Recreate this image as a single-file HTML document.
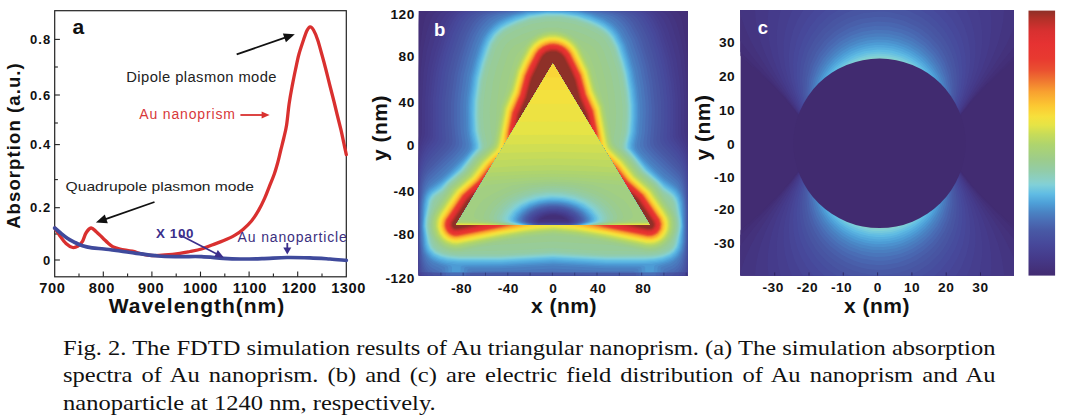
<!DOCTYPE html>
<html><head><meta charset="utf-8"><title>Fig. 2</title>
<style>
html,body{margin:0;padding:0;background:#fff;}
body{width:1068px;height:416px;overflow:hidden;position:relative;font-family:"Liberation Sans",sans-serif;}
svg{position:absolute;left:0;top:0;}
svg text{font-family:"Liberation Sans",sans-serif;}
.bx{font-weight:bold;font-size:14.6px;fill:#111;letter-spacing:.6px}
.by{font-weight:bold;font-size:13px;fill:#111;letter-spacing:1px}
.bt{font-weight:bold;font-size:13.7px;fill:#111;letter-spacing:.5px}
.xl{font-weight:bold;font-size:21px;fill:#111;}
.xl2{font-weight:bold;font-size:21px;fill:#111;letter-spacing:.5px}
.yl{font-weight:bold;font-size:18.5px;fill:#111;letter-spacing:1.1px}
.pl{font-weight:bold;font-size:21px;}
.plw{font-weight:bold;font-size:18.5px;}
.an{font-size:14px;letter-spacing:.85px}
.an2{font-size:13.2px;}
.an3{font-size:14px;letter-spacing:.4px}
.x100{font-weight:bold;font-size:13.4px;letter-spacing:.6px}
.cap{position:absolute;left:63.4px;width:837px;font-family:"Liberation Serif",serif;font-size:22px;color:#111;white-space:nowrap;text-align:justify;text-align-last:justify;line-height:27.4px;height:27.4px;transform:scaleX(1.114);transform-origin:0 0;}
</style></head><body>
<svg width="1068" height="416" viewBox="0 0 1068 416">
<defs>
<clipPath id="cb"><rect x="418.7" y="11.0" width="269.3" height="264.6"/></clipPath>
<clipPath id="ct"><polygon points="552.9,63.7 456.2,224.7 649.6,224.7"/></clipPath>
<clipPath id="cc"><rect x="740.4" y="10.0" width="273.6" height="265.6"/></clipPath>
<linearGradient id="gcb" x1="0" y1="0" x2="0" y2="1"><stop offset="0.0000" stop-color="#8e3028"/><stop offset="0.0279" stop-color="#b03028"/><stop offset="0.0770" stop-color="#d83030"/><stop offset="0.1260" stop-color="#e63232"/><stop offset="0.1826" stop-color="#e83a30"/><stop offset="0.2242" stop-color="#ea5030"/><stop offset="0.2657" stop-color="#f07830"/><stop offset="0.3057" stop-color="#f8a030"/><stop offset="0.3592" stop-color="#fcc832"/><stop offset="0.4000" stop-color="#f6e03c"/><stop offset="0.4317" stop-color="#e6e446"/><stop offset="0.4657" stop-color="#c8dc58"/><stop offset="0.5064" stop-color="#aed46e"/><stop offset="0.5638" stop-color="#9ccc8c"/><stop offset="0.6045" stop-color="#92cca8"/><stop offset="0.6453" stop-color="#88d0cc"/><stop offset="0.6581" stop-color="#80d0d8"/><stop offset="0.6921" stop-color="#60bce4"/><stop offset="0.7260" stop-color="#4ea0d8"/><stop offset="0.7600" stop-color="#4a84c4"/><stop offset="0.7958" stop-color="#4a6cb4"/><stop offset="0.8306" stop-color="#4859a5"/><stop offset="0.8808" stop-color="#47489a"/><stop offset="0.9336" stop-color="#453a8a"/><stop offset="0.9857" stop-color="#432e76"/><stop offset="1.0000" stop-color="#422c72"/></linearGradient>
</defs>
<!-- panel a -->
<rect x="54.7" y="10.7" width="291.6" height="266.1" fill="#fff" stroke="#222" stroke-width="1.2"/>
<line x1="103.3" y1="276.8" x2="103.3" y2="271.6" stroke="#222" stroke-width="1.1"/>
<line x1="151.9" y1="276.8" x2="151.9" y2="271.6" stroke="#222" stroke-width="1.1"/>
<line x1="200.5" y1="276.8" x2="200.5" y2="271.6" stroke="#222" stroke-width="1.1"/>
<line x1="249.1" y1="276.8" x2="249.1" y2="271.6" stroke="#222" stroke-width="1.1"/>
<line x1="297.7" y1="276.8" x2="297.7" y2="271.6" stroke="#222" stroke-width="1.1"/>
<line x1="79" y1="276.8" x2="79" y2="273.6" stroke="#222" stroke-width="1.1"/>
<line x1="127.6" y1="276.8" x2="127.6" y2="273.6" stroke="#222" stroke-width="1.1"/>
<line x1="176.2" y1="276.8" x2="176.2" y2="273.6" stroke="#222" stroke-width="1.1"/>
<line x1="224.8" y1="276.8" x2="224.8" y2="273.6" stroke="#222" stroke-width="1.1"/>
<line x1="273.4" y1="276.8" x2="273.4" y2="273.6" stroke="#222" stroke-width="1.1"/>
<line x1="322" y1="276.8" x2="322" y2="273.6" stroke="#222" stroke-width="1.1"/>
<line x1="54.7" y1="39.4" x2="59.900000000000006" y2="39.4" stroke="#222" stroke-width="1.1"/>
<line x1="54.7" y1="95" x2="59.900000000000006" y2="95" stroke="#222" stroke-width="1.1"/>
<line x1="54.7" y1="144.6" x2="59.900000000000006" y2="144.6" stroke="#222" stroke-width="1.1"/>
<line x1="54.7" y1="207.7" x2="59.900000000000006" y2="207.7" stroke="#222" stroke-width="1.1"/>
<line x1="54.7" y1="260" x2="59.900000000000006" y2="260" stroke="#222" stroke-width="1.1"/>
<line x1="54.7" y1="67" x2="57.900000000000006" y2="67" stroke="#222" stroke-width="1.1"/>
<line x1="54.7" y1="123" x2="57.900000000000006" y2="123" stroke="#222" stroke-width="1.1"/>
<line x1="54.7" y1="179.6" x2="57.900000000000006" y2="179.6" stroke="#222" stroke-width="1.1"/>
<line x1="54.7" y1="234" x2="57.900000000000006" y2="234" stroke="#222" stroke-width="1.1"/>
<path d="M54.7 228C55.6 229.3 58.1 233.4 60 236C61.9 238.6 63.9 241.6 66 243.5C68.1 245.4 70.7 247.1 72.7 247.5C74.7 247.9 76.4 247 78 246C79.6 245 81.2 243.6 82.5 241.4C83.8 239.2 84.6 235.2 86 233C87.4 230.8 89.4 228.2 91.1 228C92.8 227.8 94 229.8 96 231.5C98 233.2 101 236.3 103 238.2C105 240.1 106.4 241.6 108 243C109.6 244.4 110.8 245.8 112.8 246.8C114.8 247.8 116.8 248.3 120 249C123.2 249.7 128.6 250.4 132.3 251.2C136 252 138.8 253.3 142 254C145.2 254.7 147.9 255.3 151.7 255.5C155.5 255.7 160.3 255.4 165 255C169.7 254.6 175.7 253.9 179.9 253.3C184.1 252.7 186.4 252.2 190 251.5C193.6 250.8 197.8 250.1 201.5 249C205.2 247.9 208.4 246.4 212 245C215.6 243.6 219.4 242.4 223.2 240.8C227 239.2 231.3 237.3 234.6 235.4C237.9 233.5 240.2 231.8 243 229.4C245.8 227 248.9 224.2 251.5 221C254.1 217.8 256.5 213.9 258.7 210.1C260.9 206.3 262.9 202.1 264.7 198.1C266.5 194.1 267.9 190.1 269.5 186.1C271.1 182.1 272.9 178 274.3 174C275.7 170 276.8 166 277.9 162C279 158 279.8 154 280.8 150C281.8 146 282.8 142.2 283.8 138C284.8 133.8 285.7 130.7 286.6 125C287.5 119.3 288.2 110.3 289.1 104C290 97.7 290.9 92.7 292 87C293.1 81.3 294.2 75.5 295.4 70C296.6 64.5 297.6 59 299 54C300.4 49 302.2 43.9 303.5 40C304.8 36.1 305.9 32.7 307 30.5C308.1 28.3 309.1 26.9 310.2 26.8C311.3 26.7 312.2 27.8 313.5 30C314.8 32.2 316.3 35.8 317.7 40C319.1 44.2 320.6 50 322 55C323.4 60 324.7 64.8 326 70C327.3 75.2 328.7 81 330 86C331.3 91 332.4 95.3 333.6 100C334.8 104.7 335.8 109 337 114C338.2 119 339.8 125 341 130C342.2 135 343.1 139.9 344 144C344.9 148.1 345.9 152.8 346.3 154.6" fill="none" stroke="#d9302f" stroke-width="3.3" stroke-linejoin="round" stroke-linecap="round"/>
<path d="M54.7 228C55.6 228.8 57.9 230.8 60 232.5C62.1 234.2 64.8 236.5 67.3 238.2C69.8 239.9 72.5 241.2 75 242.5C77.5 243.8 79.7 244.9 82.5 245.8C85.3 246.7 88.4 247.3 92 247.8C95.6 248.3 99.4 248.5 104.1 249C108.8 249.5 114.6 250.3 120 251C125.4 251.7 130.2 252.5 136.6 253.3C143 254.1 151 255.4 158.2 256C165.4 256.6 172.8 256.5 180 256.6C187.2 256.7 194.3 256.3 201.5 256.6C208.7 256.9 216.8 257.9 223.2 258.3C229.6 258.7 233.5 258.9 240 259C246.5 259.1 254.2 258.9 262 258.6C269.8 258.4 279 257.6 287 257.5C295 257.4 302.8 257.6 310 257.8C317.2 258.1 323.9 258.6 330 259C336.1 259.4 343.6 260.2 346.3 260.4" fill="none" stroke="#3f4a9c" stroke-width="3.7" stroke-linejoin="round" stroke-linecap="round"/>
<text x="52.4" y="293.2" class="bx" text-anchor="middle">700</text>
<text x="101.8" y="293.2" class="bx" text-anchor="middle">800</text>
<text x="151.1" y="293.2" class="bx" text-anchor="middle">900</text>
<text x="200.5" y="293.2" class="bx" text-anchor="middle">1000</text>
<text x="249.9" y="293.2" class="bx" text-anchor="middle">1100</text>
<text x="299.2" y="293.2" class="bx" text-anchor="middle">1200</text>
<text x="348.6" y="293.2" class="bx" text-anchor="middle">1300</text>
<text x="51.2" y="44.1" class="by" text-anchor="end">0.8</text>
<text x="51.2" y="99.7" class="by" text-anchor="end">0.6</text>
<text x="51.2" y="149.3" class="by" text-anchor="end">0.4</text>
<text x="51.2" y="212.4" class="by" text-anchor="end">0.2</text>
<text x="51.2" y="264.7" class="by" text-anchor="end">0</text>
<text x="197" y="312.7" class="xl" text-anchor="middle" style="letter-spacing:1px">Wavelength(nm)</text>
<text transform="translate(19.8,145.5) rotate(-90)" class="yl" text-anchor="middle">Absorption (a.u.)</text>
<text x="72.6" y="34.1" class="pl" fill="#111">a</text>
<text x="126.3" y="81.9" class="an3" fill="#222" textLength="150.7" lengthAdjust="spacingAndGlyphs">Dipole plasmon mode</text>
<text x="139.2" y="119.4" class="an" fill="#d8393a">Au nanoprism</text>
<text x="65.6" y="190.6" class="an2" fill="#222" textLength="188.3" lengthAdjust="spacingAndGlyphs">Quadrupole plasmon mode</text>
<text x="156" y="238.2" class="x100" fill="#3b2f8c">X 100</text>
<text x="237.6" y="241.7" class="an" fill="#3b2f80">Au nanoparticle</text>
<line x1="236.7" y1="54.4" x2="285.8" y2="37.3" stroke="#111" stroke-width="1.8"/><polygon fill="#111" points="294.8,34.2 285.9,42.2 282.9,33.5"/>
<line x1="240.4" y1="115" x2="263.1" y2="115" stroke="#d9302f" stroke-width="1.8"/><polygon fill="#d9302f" points="269.6,115 261.6,118.6 261.6,111.4"/>
<line x1="154.5" y1="202" x2="104.9" y2="219.4" stroke="#111" stroke-width="1.8"/><polygon fill="#111" points="95.9,222.6 104.8,214.6 107.8,223.3"/>
<line x1="179.9" y1="235" x2="217.3" y2="254.3" stroke="#3b2f8c" stroke-width="1.6"/><polygon fill="#3b2f8c" points="224,257.7 214.2,257.1 217.8,250"/>
<line x1="287.3" y1="243" x2="287.3" y2="249.1" stroke="#3b2f8c" stroke-width="1.8"/><polygon fill="#3b2f8c" points="287.3,254.6 283.3,247.6 291.3,247.6"/>
<!-- panel b -->
<g clip-path="url(#cb)" shape-rendering="geometricPrecision">
<rect x="418.7" y="11.0" width="269.3" height="264.6" fill="#422c72"/>
<path fill="#422d74" fill-rule="evenodd" d="M689.7 277.1L416.7 277.1L416.7 9L689.7 9L689.7 277.1Z"/>
<path fill="#432f78" fill-rule="evenodd" d="M689.7 277L416.7 277L416.7 40L418.8 15L419.6 12L422 9L684.1 9L684.7 9.5L686.8 12L687.7 15L689.7 34.8L689.7 277Z"/>
<path fill="#44327c" fill-rule="evenodd" d="M689.7 277L416.7 277L416.7 135.8L417.2 130L417.2 100L418.1 71L419.7 48.9L422.6 29L424.9 18L426 15L427.5 13L433.9 9L552.7 8.8L671.6 9L678.3 13L680.4 16L682.1 21L685.7 42L687.5 58L688.9 84L689.7 132.6L689.7 277Z"/>
<path fill="#443581" fill-rule="evenodd" d="M689.7 277L416.7 277L416.7 148.2L418.2 142L419.5 132L419.6 98L420.7 70L423.1 49L426.7 32L430.7 19.7L432.7 15.5L434.6 13L437.7 11L442.6 9L552.7 8.9L662.8 9L667.7 11L670.9 13L673.8 17L676.5 23L681.2 40L684.1 56L685.7 73.2L686.9 100L686.9 131L688.4 142L689.7 146.6L689.7 277Z"/>
<path fill="#453886" fill-rule="evenodd" d="M689.7 277L416.7 277L416.7 156.4L421.9 133L422 99L423.6 72L426.7 51.3L431.1 34L435.7 21L437.6 17L439.7 14L442.5 12L450.9 9L552.7 8.9L654.7 9L662.8 12L665.7 14L668.5 18L671.8 25L677.6 44L680.8 59L683.2 80L684.4 102L684.3 132L689.7 154L689.7 277Z"/>
<path fill="#453b8b" fill-rule="evenodd" d="M688.7 277L417.6 277L417.3 273L416.7 272L416.7 165.3L419.7 148.5L424.9 134L425.1 97L427 75L428.4 65L431.7 50L437.3 31L442.4 19L446 14L449.1 12L455.9 9L649.8 9L656.4 12L660.4 15L663.7 20L667.7 29L673.3 47L676.5 60L679.6 81L681 98L681.1 133L682.1 137L686.7 148.1L689.7 161.6L689.7 272L689.4 277L688.7 277Z"/>
<path fill="#463e8e" fill-rule="evenodd" d="M687.7 277L418.6 277L418.4 273L416.7 272L416.7 174.3L420.2 152L422.7 145.1L427 137L427.7 134L427.7 99L430.1 76L431.4 68L435.2 52L441.4 32L446.5 20L450.5 14L453.7 11.7L460.9 9L552.7 8.9L644.9 9L651.7 11.6L655 14L658.4 19L663.3 29L669.2 47L672.9 61L676.5 82L678.1 99L678.1 134L679 137L683.7 145.2L685.7 150L687.6 157L689.7 170.1L689.7 272.3L688.3 273L688.1 277L687.7 277Z"/>
<path fill="#464192" fill-rule="evenodd" d="M686.7 277L419.6 277L419.3 273L417.8 272L416.7 262.3L416.7 183.8L418.7 166L420 158L421.7 151.9L423.9 147L429 139L430.3 135L430.2 99L432.8 76L434.6 66L438.1 52L444.4 32L449.6 20L453.9 14L457.7 11.6L466.5 9L639.2 9L648.8 12L652.6 15L656.3 21L661 31L666.5 48L670 61L673.9 83L675.7 100L675.5 135L676.4 138L682.7 147.6L685.7 154.5L687.4 162L689.6 178L689.7 267.6L689.1 272L687.3 273L686.7 277Z"/>
<path fill="#474596" fill-rule="evenodd" d="M685.7 277L420.9 277L420.4 273L418.5 272L416.7 249.7L416.7 197.6L419.3 168L420.7 160.3L422.7 153.9L425.7 148.1L431.6 140L432.8 137L433 97L435.7 74L438.8 60L447.7 31L452.8 20L457.4 14L462.7 11.3L472.9 9L632.9 9L644.7 11.9L649.3 15L653.2 21L658 31L667 60L671.2 83L673 100L673.3 116L672.8 136L674.3 140L680.7 148.4L683.7 153.8L685.8 160L687.7 170L689.7 188.3L689.7 258L688.2 272L686.2 273L685.7 277Z"/>
<path fill="#47489a" fill-rule="evenodd" d="M683.7 277L422.4 277L421.8 273L419.2 272L418 258L417 237L417.4 201L418.3 184L419.7 170.9L421.7 161.6L424.3 155L427.7 149.3L434.3 141L435.5 138L435.4 101L438.8 72L443.2 54L449.5 34L454.8 22L459.7 15L465 12L479.6 9L626.2 9L640.8 12L644.7 13.9L646.8 16L651.1 23L655.8 33L661.7 51L665.7 67L668.7 84.4L670.5 102L670.6 119L669.9 134L670.2 138L671.6 141L678.9 150L682.7 156.2L685.7 164.6L687.2 173L689.6 202L689.5 246L687.4 272L684.8 273L684.1 277L683.7 277Z"/>
<path fill="#474c9d" fill-rule="evenodd" d="M681.7 277L424.6 277L423.6 273L420.1 272L418.3 254L417.5 224L418.4 192L420.1 174L421.7 166.5L424.7 158.8L428.7 152.4L436.7 143L438.6 139L438.3 101L441.9 72L446 55L452.7 34.1L458.2 22L460.8 18L463.6 15L469.7 12L486.5 9L619.1 9L636 12L640.7 14L644 17L648.7 24.8L653 34L658.7 51.5L662.7 67.2L665.8 85L667.5 102L667.7 119L666.8 136L667.1 139L669.2 143L677.7 152.8L681.7 158.8L684.7 165.8L686.7 175.1L688.2 190L689 210L689 234L688.5 252L686.6 272L682.9 273L681.7 277Z"/>
<path fill="#47509f" fill-rule="evenodd" d="M677.7 277L428.2 277L426.3 273L421 272L418.9 255L418 227L418.8 194L420.7 175.6L422.7 167.9L425.7 161.5L430.3 155L440.1 144L441.8 141L442.3 138L441.4 122L441.5 101L445.2 72L449.4 55L455.8 35L461.7 22.4L464.8 18L467.8 15L471.4 13L474.6 12L494.6 9L611.2 9L631.7 12.2L636.4 14L640.9 18L645.7 26L650.3 36L655.8 53L659.7 69L662.6 85L664.4 103L664.5 118L663.5 136L663.7 140L665.7 144L676.7 156L681.7 163.1L684.7 170.6L686.7 180.7L687.9 195L688.4 215L688.3 239L687.3 260L685.6 272L680.1 273L677.7 277Z"/>
<path fill="#4855a2" fill-rule="evenodd" d="M670.7 277L435.2 277L431 273L422.1 272L419.7 257L418.5 230L419 202L419.7 189L421 179L423.2 171L426.7 164.2L431.7 157.8L442.8 146L445.3 142L445.7 139L444.7 123L444.7 102L448.3 73L452.5 56L459.3 35L465.1 23L468.8 18L471.7 15.3L476.2 13L480.7 11.8L504.6 9L601.5 9L619.7 10.9L627.7 12.4L633.6 15L637.7 19L642.7 27.3L647.2 37L652.7 54L656.6 70L659.4 86L661.2 103L661.3 119L660.1 138L660.6 142L663 146L674.7 158.2L680.7 165.7L684 173L686.3 184L687.7 205L687.9 234L687.2 253L685.7 266.4L684.4 272L675.2 273L670.7 277Z"/>
<path fill="#4859a5" fill-rule="evenodd" d="M665.7 277L602.9 277L597.7 276L561.7 273L553.7 273L544.7 273L508.7 276L503.5 277L439.9 277L439.1 273L423.5 272L421.7 265.5L420.6 259L419.1 235L419.4 203L420.4 189L421.7 180.6L423.7 173.8L426.7 168.3L432.7 161.1L446.3 147L448.8 143L449.2 140L447.9 123L447.9 103L448.6 94L451.4 74L455.6 57L462.4 36L468.4 24L472 19L475.1 16L478.4 14L484.8 12L493.7 10.8L515.7 9L590.6 9L614.1 11L624.7 13L630.6 16L635.3 21L640.5 30L644.5 39L651.5 62L654.1 74L656.3 87L658 104L658 120L656.6 140L657.1 143L659.7 147.2L674.7 162.6L680.7 169.7L683.7 176.3L685.9 187L687.3 207L687.4 235L686.6 253L684.7 266.3L682.9 272L666.8 273L665.7 277Z"/>
<path fill="#495faa" fill-rule="evenodd" d="M662.7 277L635.9 277L635.7 273L634.7 273L553.7 272.7L470.7 273L470.2 273L469.9 277L442.7 277L442.7 273L425.5 272L423.3 267L421.7 260.4L419.7 240.9L419.7 206L420.7 193.6L422.1 184L424.5 176L427.7 170.8L448.7 149.2L452.1 144L452.5 140L451 122L451 103L451.8 94L454.6 74L458.9 57L466.3 35L472.1 24L476.1 19L479.4 16L483.7 13.7L490.5 12L521.6 9L584.5 9L609.7 11.3L619.8 13L626.3 16L629.7 19L632.7 22.8L638.4 33L641.8 41L649.1 65L652.5 83L654.9 107L654.8 121L653.3 141L653.7 144L655.3 147L657.7 149.8L679.7 172.1L681.7 175.5L683.7 180.7L685.6 191L686.8 209L686.9 237L685.7 254.5L683.7 265.4L681 272L663.2 273L663.1 277L662.7 277Z"/>
<path fill="#4966b0" fill-rule="evenodd" d="M659.7 277L639.4 277L639.4 273L634.7 272.7L553.7 272.5L470.7 272.7L466.4 273L466.4 277L446 277L446 273L428.2 272L426.7 270.1L424.7 266.5L422.7 260.1L421 250L420.2 241L419.9 224L420.3 206L420.9 198L422.7 186.1L424.7 179.7L427.7 174.6L451.2 151L453.7 148L455.4 145L455.8 141L454.1 123L454.1 104L454.7 95L457.7 74L462.1 57L466.8 42L470 34L473.2 28L476.6 23L480.1 19L483.8 16L487.8 14L494.7 12.4L526.9 9L579 9L608.6 12L617.7 14L621.9 16L624.6 18L630.5 25L637.4 38L642.8 54L646.4 67L649.7 85L651.9 108L651.7 122L650 142L650.4 145L652.1 148L655.6 152L676.7 172.4L679.7 176L681.7 179.6L683.5 185L685.5 197L686.4 213L686.3 239L684.9 254L682.7 264L680.7 268.5L678 272L659.8 273L659.7 277Z"/>
<path fill="#4a6db5" fill-rule="evenodd" d="M655.7 277L643.4 277L643.4 273L635.7 272.5L553.7 272.2L470.7 272.5L462.4 273L462.4 277L450.1 277L450.1 273L432.9 272L429.7 269.8L426.7 266.3L424.7 262.2L422.7 255.2L421.3 248L420.7 240L420.3 224L420.8 206L421.7 197L423.5 188L425.7 181.7L428.7 177.1L452.5 154L456.9 149L458.6 146L459.1 142L457.8 133L457.1 123L457.1 104L457.8 95L460.8 74L464.9 58L469.7 43L472.9 35L478.9 25L482.7 20.6L486.9 17L490.7 14.9L497.7 13L529.7 9.4L535.1 9L572.7 9.1L601.1 12L612.3 14L617.2 16L620.7 18.4L624.7 22.4L628.2 27L634.7 39.4L639.9 55L643.5 68L646.8 86L648.5 101L648.9 109L648.2 129L646.7 142L647.2 146L648.9 149L654.2 155L678.7 178.4L680.7 181.6L682.7 186.8L685.1 200L685.9 214L685.7 240L684.7 250.2L681.7 262.3L678.7 267.6L673.7 271.7L655.8 273L655.7 277Z"/>
<path fill="#4a76bb" fill-rule="evenodd" d="M665.7 272L648.7 272.9L633.7 272.2L563.3 272L552.7 271.5L543 272L472.7 272.2L452.7 272.9L439.7 272L431.7 267.8L427.7 263.9L425.7 260.3L423.1 253L421.4 242L420.8 226L421.2 211L421.7 201.5L423 194L425.7 185.9L428.7 180.9L453.7 157.2L459.3 151L461.9 147L462.5 143L461 134L460.3 126L460.1 105L460.8 96L463.7 75L467.8 59L472.6 44L475.8 36L478.5 31L482 26L486.5 21L490.2 18L493.7 16L499.8 14L525.7 10.4L548.7 9L572.7 9.8L601 13L609.5 15L613.9 17L617.7 19.7L621.7 23.6L625.2 28L631.6 40L637 56L640.6 69L643.7 86L645.5 102L645.8 112L645 131L643.3 143L643.7 146.5L645.7 150L651.9 157L662.7 167.5L677.7 181L679.7 183.9L681.7 188.4L684.2 198L685.2 209L685.4 227L685 242L683.7 251.2L680.7 260.3L677.7 265L673.7 268.3L665.7 272Z"/>
<path fill="#4a7ec0" fill-rule="evenodd" d="M662.7 272L645.7 272.7L635.4 272L632.7 271.1L604.7 271.1L552.7 268.4L515.7 270.5L499.7 271.1L472.7 271.2L470.4 272L464.7 272.4L450.7 272.6L442.7 272L441.7 269.2L432.7 265.1L429.7 262.6L427.7 260.2L423.6 252L421.9 241L421.3 226L421.7 211.4L422.3 202L423.6 195L425.7 189.4L429.7 183.5L440.7 174L453.2 162L461.7 153L465.2 148L465.8 144L463.6 129L463.2 105L463.8 96L466.9 75L470.7 60L475.4 45L478.7 37L481.5 32L485.1 27L489.7 22.2L493.7 19L498.7 16.4L504.7 14.5L517.4 12L526.7 10.8L551.7 9.6L577.7 10.6L594.4 13L603 15L607.7 16.7L611.9 19L615.8 22L622.8 30L629.1 42L634.1 57L637.7 70L640.8 87L642.5 103L642.8 116L641.8 133L639.9 144L640.2 147L642.5 151L650.6 160L663.7 172.6L674.7 181.6L677.7 184.8L681.7 191.9L683.7 199.5L684.6 210L684.9 227L684.3 242L682.9 251L680.5 257L676.7 262.5L672.7 265.5L664.5 269L662.7 272Z"/>
<path fill="#4a87c6" fill-rule="evenodd" d="M659.7 272.1L649.7 272.5L638.7 272L637.9 269L635.7 268.4L604.7 268.3L552.7 265.6L501.7 268.3L469.7 268.4L467.7 269.2L467.1 272L457.7 272.5L448.7 272.2L445.3 272L445 268L444.2 267L432.7 262.3L429.7 259.9L426.7 256.2L424.5 252L423.2 247L421.9 229L422.6 206L424.1 196L426.1 191L428.7 187.3L431.7 184.4L441.5 177L451.1 168L463.7 154.9L466.9 151L468.5 148L468.8 144L467 135L466.2 127L465.9 107L466.4 98L469.2 77L473.3 61L478 46L481.3 38L484.1 33L487.9 28L492.7 23.2L496.7 20.2L502.7 17.1L509.7 14.7L516.7 12.9L526.7 11.3L550.7 10.1L577.7 11.1L591.7 13.3L598.7 15.4L604.7 17.8L609.7 20.7L613.7 23.8L617.8 28L620.8 32L626.2 42L631.2 57L635.1 71L638.1 88L639.9 105L640 116L639 133L636.7 144.9L637.2 148L639.7 152.1L649.7 163L664.5 177L673.7 183.8L677.7 187.6L681.1 193L683 200L683.9 209L684.3 227L683.7 242L682 251L679.7 255.8L676.7 259.6L670.7 263.7L661.6 267L660.7 268.3L660.5 272L659.7 272.1Z"/>
<path fill="#4c91ce" fill-rule="evenodd" d="M656.7 272.1L641.8 272L641.5 268L640.2 267L638.7 266.7L604.7 266.5L553.7 263.8L501.7 266.5L467.7 266.7L465.6 267L464.3 268L464 272L448.4 272L448.3 268L447.3 266L438.7 263.3L433.7 261L429.7 258.1L426.7 254.3L424.7 250L423.8 246L422.3 227L423.3 205L424.7 196.9L426.7 192L429.7 188.1L441.7 179L450.5 171L463.7 157.5L468.4 152L470.2 149L470.8 145L468.2 130L467.6 107L468.3 97L471.2 76L474.2 64L479.2 48L483.2 38L489.3 29L493.7 24.6L497.7 21.6L503.7 18.3L512.2 15L525.7 11.9L550.7 10.6L577.7 11.6L590.9 14L602.7 18.5L611.7 24.3L615.7 28.2L619.4 33L625.1 44L630 59L633.3 71L636.4 88L638.1 104L638.3 116L637.2 133L634.8 145L635.5 149L637.7 152.3L643.7 159.3L655.4 171L664.3 179L673.7 185.7L677.3 189L680.7 194.5L682.6 202L683.8 226L683 242L681.4 250L678.2 256L673.7 260.2L668.7 262.7L658.6 266L657.5 268L657.4 272L656.7 272.1Z"/>
<path fill="#4d9cd5" fill-rule="evenodd" d="M653.7 272L645.3 272L645.1 267L644 266L641.7 265.5L604.7 265.2L553.7 262.5L501.7 265.2L464.7 265.4L461.8 266L460.7 267L460.5 272L451.9 272L451.9 267L450.7 265.4L440.7 262.6L434.7 260.2L430.7 257.4L427.1 253L425.3 249L424.4 245L422.8 226L424 205L425.5 197L427.3 193L429.7 189.7L441.7 180.7L451.7 171.6L463.7 159.4L469.9 152L471.7 149L472.2 145L470.1 135L469.4 128L468.9 107L469.5 98L472.4 77L476.5 61L480.9 47L484.2 39L487.1 34L490.7 29.4L494.7 25.4L499.4 22L505.7 18.7L514.7 15.2L527.7 12.3L550.7 11L576 12L582.9 13L590.7 14.9L603.7 20.5L608.7 23.6L612.7 27L616.3 31L619.1 35L624.1 45L629 60L632.2 72L635.2 89L636.8 104L637 116L635.9 133L633.4 145L634 149L635.9 152L642.7 160.1L654.6 172L663.7 180.2L672.7 186.5L676.7 190L679.9 195L682 203L683.3 227L682.1 243L680.5 250L677.6 255L672.7 259.4L666.7 262.1L655.8 265L654.3 266L653.7 272Z"/>
<path fill="#52a6db" fill-rule="evenodd" d="M651.7 264L605.7 264L552.7 261.3L501.7 264L456.7 264.4L444.7 262.4L437.2 260L431.7 256.8L427.7 252.2L426.2 249L425.1 245L423.2 226L424.8 205L426.1 198L427.8 194L430.7 190.3L441.7 182.2L454 171L463.7 161L473 149L473.5 145L471.4 135L470.6 129L470.1 108L470.7 98L473.6 77L477.4 62L482.2 47L485.1 40L487.9 35L491.7 30.1L495.7 26.2L499.7 23.3L505.8 20L514.7 16.3L527.7 12.9L549.7 11.4L561.7 11.6L574.7 12.5L580.7 13.3L588.7 15.3L602.2 21L610.9 27L614.7 30.9L617.7 35L622.8 45L627.7 60L630.9 72L634.1 90L635.6 105L635.7 117L634.7 133L632.1 145L632.7 149L643.7 162.9L651.8 171L663.7 181.7L672.7 188L676.1 191L679.3 196L681.2 203L682.8 227L681.3 243L679.5 250L675.7 255.5L670.7 259.1L662.7 262.1L651.7 264Z"/>
<path fill="#58b0df" fill-rule="evenodd" d="M656.7 262L645.7 262.9L606.7 262.9L552.7 260.1L500.7 262.8L457.7 262.8L446.7 261.6L438.7 259.3L432.7 256.1L428.7 251.8L427.1 249L425.9 245L423.7 227L424 219L425.6 204L426.7 199L428.4 195L430.7 191.9L441.7 183.6L457.7 169L463.7 162.5L474.3 149L474.8 145L472.6 135L471.8 129L471.3 109L471.9 98L474.6 78L478.4 63L483.1 48L485.9 41L488.7 36L491.7 31.9L495.7 27.8L499.7 24.7L506.4 21L515.7 17.1L528.7 13.5L547.7 11.9L569.7 12.6L577.7 13.6L584 15L590.7 17.1L598.7 20.6L604.7 23.8L608.7 26.7L612.7 30.4L616.2 35L621.5 45L626.5 60L629.7 72L632.9 90L634.4 105L634.5 117L633.6 132L631 144L631 148L632.8 151L646.7 167.6L663.7 183.1L672.1 189L675.7 192.3L678.6 197L680.3 203L682.4 226L680.7 242L679.3 248L676.5 253L671.7 257.2L664.7 260.2L656.7 262Z"/>
<path fill="#5fbbe3" fill-rule="evenodd" d="M654.7 261.1L643.7 261.7L606.7 261.7L552.7 258.9L500.7 261.7L458.7 261.6L447.7 260.6L439.7 258.5L433.7 255.4L429.3 251L427.7 248L426.5 244L424.2 227L424.5 219L427.3 200L429 196L431.7 192.4L440.7 185.8L460.7 167.3L474.7 150L475.8 148L475.9 144L473.2 131L472.5 114L472.9 100L475.8 78L479.9 62L484.3 48L487.2 41L490.1 36L493.2 32L500.7 25.4L506.7 22.1L515.7 18.3L528.7 14.3L547.7 12.4L567.5 13L581.7 15.3L589.7 17.9L597.7 21.4L603.7 24.6L607.7 27.4L611.7 31.1L615.5 36L620.2 45L625.5 61L628.5 72L631.8 91L633.3 105L633.4 118L632.4 132L629.8 144L629.9 148L631 150L646.7 169L664.7 185.3L671.7 190.1L674.9 193L678.1 198L679.7 204L681.7 220L681.9 226L679.9 242L678.3 248L675 253L670.7 256.4L662.7 259.6L654.7 261.1Z"/>
<path fill="#6ac2e0" fill-rule="evenodd" d="M653.7 260.1L643.7 260.7L606.7 260.6L552.7 257.8L500.7 260.6L458.7 260.6L447.7 259.5L439.7 257.3L433.7 254.1L429.7 249.9L427.3 244L424.7 226L425 219L428.1 200L430 196L432.5 193L440.7 187.1L446.7 181L460.7 168.4L477 148L477.2 145L474.3 131L473.5 114L474 100L476.9 78L481 62L485.1 49L488 42L492.9 34L496.7 30L500.7 26.7L506.7 23.3L515.7 19.4L528.7 15.1L545.7 13L562.7 13.2L577.7 15.2L592.7 20.3L599.7 23.6L605.7 27.2L610.1 31L614.2 36L619.4 46L624.4 61L627.4 72L630.6 90L632.2 105L632.3 117L631.3 132L628.7 144L628.7 148L646.6 170L659.2 181L664.7 186.6L670.7 190.7L674.4 194L677.1 198L678.9 204L681.2 220L681.4 226L678.9 243L677.3 248L674.6 252L669.7 255.8L661.7 258.7L653.7 260.1Z"/>
<path fill="#76cadc" fill-rule="evenodd" d="M653.7 259.1L643.7 259.7L606.7 259.7L552.7 256.9L500.7 259.7L458.7 259.6L447.7 258.5L440.7 256.6L434.7 253.7L430.1 249L427.8 243L425.2 226L425.5 219L428.6 201L430.4 197L432.7 194.1L441 188L446.7 181.8L460.7 169.5L478 148L478 144L475.2 131L474.5 115L474.9 100L477.9 78L481.4 64L486.2 49L489 42L494.2 34L497.7 30.4L501.7 27.2L506.7 24.4L515.7 20.4L529.7 15.6L546.7 13.5L562.7 13.7L577.7 16L593.7 21.8L600.7 25.2L605.7 28.4L609.7 32L613.7 37L618.4 46L624 63L626.8 74L629.9 92L631.3 106L631.3 118L630.4 132L627.7 144L627.7 148L645.6 170L658.7 181.4L664.7 187.7L670.7 191.9L674.1 195L676.7 199.1L678.4 205L680.6 220L680.9 226L678.4 242L676.9 247L673.7 251.7L669.7 254.7L662.7 257.5L653.7 259.1Z"/>
<path fill="#81d0d6" fill-rule="evenodd" d="M655.7 258L643.7 258.8L606.7 258.8L552.7 256L500.7 258.8L459.7 258.8L447.7 257.6L440.7 255.7L434.7 252.7L430.7 248.5L428.5 243L426.2 231L425.7 226L426.1 219L429.4 201L431.3 197L433.7 194.3L441.7 188.5L447.4 182L461.1 170L471.2 157L478.9 148L478.9 144L476.1 131L475.3 117L475.6 102L478.4 80L482.3 64L489.1 44L491.7 39L494.5 35L501.7 28.3L506.7 25.4L515.7 21.3L529.7 16.4L545.7 14.1L560.7 14.2L576.7 16.5L590.7 21.3L599.7 25.6L604.7 28.8L608.7 32.2L612.6 37L617.4 46L622.5 61L626 74L628.9 91L630.4 106L630.5 117L629.5 132L626.8 144L626.8 148L634.6 157L644.7 170L658.4 182L663.8 188L670.7 192.9L673.7 195.8L676.2 200L677.6 205L680.1 220L680.3 226L679.7 232L676.5 246L673.7 250.5L669.7 253.7L662.7 256.6L655.7 258Z"/>
<path fill="#88d0cb" fill-rule="evenodd" d="M645.7 258L606.7 258L553.7 255.2L499.7 258L459.7 258L448.7 257L441.7 255.2L435.7 252.4L431.3 248L429.2 243L426.7 231L426.3 226L426.6 219L429.8 202L431.6 198L433.7 195.4L441.7 189.5L447.7 182.6L462 170L471.7 157.4L479.8 148L479.8 144L476.9 131L476.1 117L476.4 102L479.4 79L483.2 64L487.6 50L490.4 43L495.7 34.8L499.7 30.8L503.7 28L517.7 21.3L530.7 16.9L546.7 14.7L562.7 15L577.7 17.5L587.7 21L595.7 24.5L601.7 27.7L605.7 30.6L609.7 34.5L612.9 39L617 47L622.2 63L625.1 74L628.2 92L629.6 106L629.7 117L628.7 132L625.9 144L625.9 148L633.8 157L644.7 171L658.5 183L663.7 189L670.7 193.9L673.7 197L676.5 203L679.4 219L679.8 226L679.1 232L676.4 244L673.7 249.3L669.3 253L662.7 255.7L655.7 257.2L645.7 258Z"/>
<path fill="#8bcfc0" fill-rule="evenodd" d="M648.7 257L606.7 257.2L552.7 254.4L499.7 257.2L459.7 257.2L448.7 256.1L441.7 254.4L435.7 251.4L431.7 247.2L430 243L427.7 232.9L426.8 225L427.4 218L430 204L431.4 200L434.7 195.5L442.3 190L448.2 183L462 171L472.7 157.2L479.5 150L480.7 148L480.6 144L477.7 131L476.9 117L477.2 102L480 80L483.7 65.1L490.7 44.3L495.8 36L499.6 32L503.7 28.9L518.2 22L530.7 17.7L546.7 15.4L560.7 15.5L576.6 18L592.7 24L603.7 30L608.2 34L611.7 38.5L616.1 47L621.7 64.1L624.3 74L627.4 92L628.8 106L628.9 117L627.9 132L625.1 144L625.1 148L626.3 150L633.7 157.9L643.8 171L657.6 183L663.7 190L669.5 194L672.7 197L675.7 203L678.7 218.7L679.2 225L678.7 231L675.7 243.8L673.7 248L669.7 251.8L664.7 254.2L657.7 256.1L648.7 257Z"/>
<path fill="#8fcdb5" fill-rule="evenodd" d="M650.7 256L606.7 256.4L552.7 253.6L499.7 256.4L459.7 256.3L449.7 255.4L442.7 253.8L436.6 251L432.6 247L430.9 243L428.4 233L427.4 225L428 218L430.7 204.9L432.4 200L435.5 196L442.7 190.7L448.7 183.5L463 171L472.9 158L480.4 150L481.6 148L481.5 144L478.7 132L477.8 118L478 103L480.7 81L484.7 64.7L491.7 44.2L496.7 36.2L503.7 29.9L509 27L518 23L530.7 18.5L546.7 16.2L559.7 16.2L576.7 18.9L590.6 24L598.9 28L603.6 31L607.7 34.8L610.7 38.6L615.6 48L620.7 63.7L623.7 75.3L626.6 92L628 106L628.1 117L627 132L624.2 144L624.2 148L625.3 150L632.7 157.8L642.8 171L656.7 183.1L662.7 190.2L669.4 195L672.3 198L674.8 203L677.9 218L678.6 225L678 231L674.7 244L672.7 247.8L669.3 251L664.7 253.3L658.7 255L650.7 256Z"/>
<path fill="#92ccaa" fill-rule="evenodd" d="M650.7 255L607.7 255.4L552.7 252.6L499.7 255.4L460.7 255.4L451.7 254.7L443.6 253L437.1 250L433.7 246.7L432 243L429.1 233L428.1 225L428.7 218L433.1 201L436 197L443.5 191L449.2 184L463.9 171L473.7 158.2L481.5 150L482.6 148L482.6 144L479.7 131.8L478.8 117L479 103L481.8 81L485.7 65L492.7 44.5L497.7 36.7L504 31L513.7 26L529.7 19.8L545.7 17.2L558.7 17.1L574.7 19.5L588.1 24L596.7 28L601.8 31L606.5 35L609.7 39L614.7 48.6L619.7 63.9L622.7 75.5L625.6 93L626.9 106L627 117L626 132L623.2 144L623.1 148L624.3 150L631.9 158L642.7 171.9L655.7 183.1L662.7 191.4L668.9 196L671.7 198.9L673.7 203L677.2 218L677.9 224L677.3 231L673.7 243.7L672 247L668.9 250L664.7 252.1L658.6 254L650.7 255Z"/>
<path fill="#95cca1" fill-rule="evenodd" d="M644.7 254L607.7 254L553.7 251.1L498.7 254L458.7 253.9L450.7 253.3L443.7 251.5L438.3 249L434.7 245.3L430.2 234L428.8 225L429.7 217L434.7 201.3L437.2 198L442.7 193.3L449.7 184.6L464.7 171.3L474.7 158.3L482.6 150L483.9 148L484.1 144L480.9 129L480.2 115L480.6 101L483.7 79L486.7 66.9L493.7 45.9L498.7 37.8L502.5 34L506.7 31.1L519.7 25L531.7 20.9L547.7 18.5L561.7 18.8L575.7 21.2L586.6 25L593.3 28L599.1 31L603.2 34L606.7 37.5L609.7 41.8L613.7 50.3L619.7 69.4L622.7 83.8L624.7 97.8L625.6 108L625.6 117L624.7 130.4L621.9 143L621.5 146L621.9 148L623.2 150L631.7 159L641.7 172L655.7 184.2L662.7 192.7L669.7 199L672 203L676.7 219.3L677.1 226L676.3 232L672.7 242.3L669.9 247L665.9 250L659.7 252.3L653.7 253.5L644.7 254Z"/>
<path fill="#98cc98" fill-rule="evenodd" d="M653.7 252.1L647.7 252.5L633.7 251.2L593.7 250.5L552.7 248.1L512.7 250.5L471.7 251.2L455.7 252.4L449.7 251.7L443.7 249.7L439.1 247L435.7 243.5L432.7 238.2L431.1 234L430 229L429.7 224L431.2 215L436.1 204L438.6 200L448.7 187L465.3 172L475.2 159L484.7 149L486.7 146L486.9 143L483.9 129L483.1 116L483.5 103L486.1 82L489.7 67.3L495.7 48.8L500 41L506.2 35L515.7 30L531.4 24L545.7 21.6L556.7 21.3L563.9 22L574.6 24L586 28L598.2 34L602.1 37L605.7 41.2L609.7 48.3L614.7 62.9L617.7 73.6L621.1 93L622.6 107L622.7 116L621.7 130.4L619 142L619.1 146L621 149L630.6 159L640.5 172L654.2 184L657.7 187.7L669.3 203L673.7 212.2L675.6 218L676.3 224L675.7 231L673.7 237.1L670.7 242.7L667.9 246L664.7 248.4L659.7 250.7L653.7 252.1Z"/>
<path fill="#9bcc8f" fill-rule="evenodd" d="M652.7 251L644.7 250.8L631.6 248L611.5 245L552.7 241.6L494.3 245L479.9 247L460.7 250.9L454.7 251.1L448.7 250.1L443.7 248.1L439.2 245L435.6 241L432.1 234L430.6 226L431.6 217L434.7 209.6L440.1 201L449.7 187.3L465.7 173L476.7 158.8L488.4 147L491.2 143L491.9 138L490.2 126L489.7 109L492.9 82L496.1 69L502 51L505.7 44.6L510.7 40L521.7 34.6L533.7 30.2L547.7 27.5L556.7 27.4L572.7 30.3L584.7 34.6L595.2 40L598.6 43L600.9 46L604 52L609.3 68L611.7 77L614.5 93L616.2 112L615.4 127L613.8 138L614.6 143L617.4 147L628.7 158.3L640.1 173L652.8 184L656.7 188L670.2 208L672.9 213L674.6 218L675.4 224L674.9 230L673.5 235L670.7 240.4L666.7 245L662.7 247.8L657.7 249.9L652.7 251Z"/>
<path fill="#9ecd88" fill-rule="evenodd" d="M650.7 250L644.7 249.6L618.1 244L588.7 239L573.8 237L552.7 235.5L532.1 237L517.1 239L487.7 244L460.7 249.7L454.7 250L448.7 248.9L443.7 246.7L439.7 243.9L435.7 239.2L432.7 233L431.5 225L432.3 218L435.2 211L450.5 188L467.1 173L477.9 159L490.2 147L492.9 143L494.7 133.8L496.1 120L496.8 104L499.8 82L502.6 71L507.7 55L510.7 49.4L514.7 45.6L526.7 39.7L538.7 32.6L546.7 30.2L554.7 29.7L561.7 30.8L568.7 33.3L578.7 39.3L589.7 44.6L592.8 47L595.3 50L597.8 55L601.3 65L605.5 81L607.9 95L609.3 108L609.7 121.2L611.7 138.3L612.9 143L615.6 147L627.9 159L638.7 173.1L655.3 188L669.5 209L673.3 217L674.4 223L674.1 229L672.8 234L670.3 239L666.7 243.3L661.7 247L655.7 249.3L650.7 250Z"/>
<path fill="#a2cf82" fill-rule="evenodd" d="M649.7 249L644.7 248.5L618.8 243L585.4 237L571.4 235L552.7 233.5L526.7 236L497.3 241L460.7 248.6L454.7 249L448.7 247.8L442.7 244.9L438.3 241L435 236L432.7 229L432.5 222L434.2 215L438.2 208L451.9 188L467.6 174L479.3 159L491.6 147L493.7 144L494.9 140L500.9 105L505.7 91.1L510 73L514.7 58.5L517.2 54L527.9 42L532.7 37.7L537.7 34.5L544.7 31.9L551.7 30.9L558.7 31.4L565.7 33.4L571.7 36.7L575.9 40L587.7 53L589.7 55.9L594.6 69L599.8 90L605.1 106L610.7 139.1L612.1 144L614.7 147.5L626.5 159L638.2 174L651.7 185.7L654.8 189L668.9 210L672.4 217L673.5 223L673.2 229L671.8 234L669.1 239L665.5 243L660.7 246.3L655.7 248.2L649.7 249Z"/>
<path fill="#a6d17b" fill-rule="evenodd" d="M650.7 248.1L645.7 247.8L608.3 240L579.2 235L552.7 232.4L526.6 235L497.5 240L460.7 247.7L454.7 248L448.7 246.8L443.7 244.4L439.5 241L435.9 236L433.7 230L433.2 223L434.8 216L438 210L452.2 189L468.7 174.1L479.7 159.9L491.9 148L494.2 145L495.7 140.6L502 106L509.7 87.5L513.3 73L515.1 68L520.1 57L526.2 46L531.5 40L537.7 35.7L542.7 33.5L548.7 32.1L553.7 31.8L559.7 32.5L565.7 34.5L570.7 37.2L575.3 41L578.8 45L585.2 56L591.2 69L596.7 89.3L603.2 104L605.1 112L610 140L611.6 145L613.9 148L626.2 160L637.7 174.8L653.6 189L670.2 214L672.3 220L672.7 226L671.6 232L669.3 237L665.7 241.6L661.7 244.7L656.7 247L650.7 248.1ZM561.7 216L579 214L607.4 209L612.7 207.9L613.7 207.2L613.9 206L610.7 190.7L603.3 174L598.7 158.2L596.7 153.6L593 150L565.7 129.3L554.7 115.5L552.7 114.2L549.7 117.1L540.4 129L512.8 150L508.7 154.2L507.5 157L503.3 172L495.7 189L491.9 206L492 207L493.4 208L526.8 214L550.7 216.4L561.7 216Z"/>
<path fill="#aad274" fill-rule="evenodd" d="M652.7 247L645.7 246.9L607.4 239L578.3 234L554.7 231.6L546.2 232L527.5 234L503.7 238L456.7 247.3L450.7 246.6L445.7 244.6L440.7 241L436.8 236L434.5 230L434 223L435.2 217L438.3 211L453.3 189L469 175L480.7 160L492.7 148.4L495.1 145L496.6 140L502.9 106L510.7 87.7L515.4 70L520.3 59L527.4 46L531.7 41L537.7 36.6L543.7 34.1L549.7 32.8L555.7 32.8L561.7 33.9L567.7 36.4L572.7 39.8L576.9 44L580.3 49L590 69L595.7 89.5L602.5 105L606.1 122L609.4 141L610.7 145.1L612.8 148L625.1 160L636.7 174.9L649.7 186.2L653.3 190L667.5 211L670.6 217L671.8 222L671.8 227L670.8 232L669 236L665.7 240.4L661.7 243.7L657.7 245.7L652.7 247ZM563.1 217L580.2 215L608.9 210L613.7 209L615.1 208L615.3 207L611.7 190.2L604 173L599.4 157L597.7 153.2L594.7 150L567.7 128.8L564.1 125L555.7 114L553.7 112.2L552.7 111.9L548.7 115.6L538.7 128.3L511.2 150L507.7 153.9L502.1 172L494.2 190L490.5 207L490.7 208.1L492.7 209.1L532.6 216L551.7 217.7L563.1 217Z"/>
<path fill="#aed46e" fill-rule="evenodd" d="M653.7 246.1L649.7 246.5L645.7 246.1L606.3 238L576.8 233L552.7 230.8L535.7 232.2L522.7 234L499.5 238L459.7 246.2L454.7 246.4L449.7 245.5L444.7 243.2L440.7 239.9L437.1 235L435.1 229L434.8 222L436.4 216L440.5 209L454.3 189L469.7 175.4L480.8 161L493.1 149L495.7 145.6L497.2 141L503.4 107L510.8 90L516.3 70L521.2 59L527.6 47L531.8 42L537.7 37.5L542.7 35.2L548.7 33.7L554.7 33.5L560.7 34.4L566.7 36.8L571.7 40L575.9 44L579.4 49L589.1 69L594.7 89.1L602.1 106L608.7 141.4L610.3 146L612.7 149L624.1 160L635.8 175L652.4 190L666 210L669.8 217L671 222L671.1 227L670 232L668.1 236L665 240L661.7 242.8L657.7 244.9L653.7 246.1ZM561.4 218L579.3 216L613.2 210L615.9 209L616.2 207L612.5 190L604.5 172L599.9 156L598.5 153L594.7 149L568.1 128L556.7 113.7L554.7 111.6L552.7 110.7L548.7 114.2L537.7 127.9L511.1 149L507.3 153L505.7 156.5L501.3 172L493.6 189L489.5 208L489.9 209L492.5 210L528.7 216.3L551.7 218.5L561.4 218Z"/>
<path fill="#b6d667" fill-rule="evenodd" d="M654.7 245.1L650.7 245.7L646.7 245.6L593.4 235L574.7 232L554.7 230.1L539.7 231.1L524.4 233L501 237L456.7 245.8L450.7 245L445.7 242.9L441.7 239.9L437.9 235L435.8 229L435.5 222L437.1 216L441.3 209L454.4 190L470 176L481.8 161L494.1 149L496.3 146L497.7 141.8L504.2 107L511.7 89.5L517 70L522.1 59L528.5 47L532.8 42L538.7 37.8L543.7 35.6L549.7 34.3L555.7 34.3L561.7 35.5L566.7 37.6L571.7 40.9L575.8 45L579.1 50L588.8 70L593.9 89L601.3 106L607.9 141L609.5 146L611.7 149L624 161L635.7 176L651.4 190L665.1 210L669.1 217L670.2 221L670.5 226L669.9 230L668.4 234L665.9 238L662.7 241.2L658.7 243.7L654.7 245.1ZM558.3 219L577.5 217L601.5 213L615.7 210.1L617.1 209L617.2 208L612.9 189L605.3 172L600.7 156L598.7 152L595.7 148.9L568.7 127.5L557 113L554.7 110.6L552.7 109.7L548.7 113L540.3 124L536.7 127.9L510 149L506.7 152.5L505.1 156L500.5 172L492.7 189.6L488.6 208L488.7 209L489.7 210L491.7 210.6L527.7 216.9L549.7 219.2L558.3 219Z"/>
<path fill="#bed960" fill-rule="evenodd" d="M650.7 245.1L645.7 244.7L608.3 237L579.7 232.1L554.7 229.5L544.4 230L526.5 232L502.8 236L456.7 245.1L450.7 244.3L445.7 242.2L441.7 239L438.1 234L436.1 227L436.5 220L438.9 214L446.1 203L455.2 190L471 176L482.7 161L494.7 149.3L497 146L498.5 141L504.6 108L512.6 89L517.4 71L522.3 60L528.7 48L532.8 43L538.7 38.5L543.7 36.3L549.7 35L554.7 34.9L560.7 35.9L565.7 37.8L570.8 41L574.9 45L578.3 50L588 70L593.7 90.4L600.9 107L607.5 142L608.7 146L610.8 149L623.1 161L634.8 176L647.7 187.2L651.4 191L665 211L668.4 217L669.7 222L669.7 227L668.5 232L666.7 235.7L663.7 239.4L659.7 242.4L655.7 244.2L650.7 245.1ZM565.8 219L581.8 217L614.7 211.1L617.7 210L618 208L613.6 189L606 172L601.4 156L599.6 152L595.7 148.1L569.1 127L557.7 112.7L554.7 109.7L552.7 108.8L550.7 110L547.7 113.2L536.7 127L509.7 148.5L506.2 152L504.7 155.2L500.2 171L492.2 189L487.7 209L488.1 210L490.7 211L530.7 218L551.7 220L565.8 219Z"/>
<path fill="#c6db5a" fill-rule="evenodd" d="M653.7 244L646.7 244.2L595.3 234L574.7 230.7L554.7 228.8L537.7 230L524.7 231.6L499.7 235.9L456.7 244.5L451.7 243.9L446.7 242L442.6 239L438.9 234L436.7 227L436.6 223L437.4 219L439.6 214L450.2 198L456.1 190L471.7 176.1L482.7 161.9L494.9 150L497.2 147L498.9 142L505.2 108L512.7 90.6L518 71L522.5 61L529.4 48L533.7 43L538.7 39.3L543.7 37L549.7 35.6L555.7 35.6L560.7 36.6L565.7 38.5L570.7 41.8L574.7 45.7L577.6 50L587.4 70L592.9 90L600.3 107L606.9 142L608.5 147L610.9 150L622.7 161.5L634 176L650.6 191L664.2 211L667.7 217L668.9 221L669.2 226L668.5 230L667 234L664.7 237.4L661.7 240.3L657.7 242.7L653.7 244ZM561.9 220L578.7 218.1L608.5 213L617.7 211L618.8 210L618.9 209L614.3 189L606.3 171L601.7 155L600.3 152L596.5 148L570 127L557.9 112L554.7 108.8L552.7 108L550.7 109.1L547.7 112.2L535.8 127L509.3 148L505.5 152L504.1 155L499.5 171L491.5 189L487 210L488.1 211L492.2 212L530.7 218.6L551.7 220.6L561.9 220Z"/>
<path fill="#d0de53" fill-rule="evenodd" d="M654.7 243.1L650.7 243.8L646.7 243.6L609.6 236L587 232L572.7 229.8L553.7 228.2L536.7 229.5L524.9 231L501.7 234.9L456.7 243.8L451.7 243.3L446.7 241.3L442.7 238.2L439.6 234L437.3 227L437.3 223L438 219L440.4 214L450.3 199L456.7 190.2L471.7 177L483.4 162L495.7 150.1L498 147L499.5 142L505.8 108L513.2 91L518.7 71L523.2 61L529.7 48.7L533.7 43.8L539.7 39.4L544.7 37.3L549.7 36.3L555.7 36.2L560.7 37.2L565.7 39.2L570 42L573.7 45.5L576.9 50L587.1 71L592.6 91L599.7 107L606.3 142L607.8 147L610.1 150L622.4 162L633.7 176.6L649.8 191L662.8 210L667 217L668.3 221L668.6 225L668.2 229L666.8 233L664.7 236.4L661.7 239.5L658.7 241.5L654.7 243.1ZM557.5 221L575.7 219.2L600.7 215.1L617.7 211.7L619.2 211L619.7 210L614.7 188.4L607 171L602.3 155L600.7 151.5L597.4 148L570.7 126.8L567.1 123L558.7 112L554.7 108L552.7 107.2L550.7 108.3L547.1 112L535.7 126.3L508.4 148L504.8 152L498.8 171L491.2 188L486.1 210L486.7 211.1L489.7 212.1L527.7 218.8L549.7 221.1L557.5 221Z"/>
<path fill="#dbe14c" fill-rule="evenodd" d="M651.7 243.1L646.7 243L605.7 234.6L580.7 230.3L553.7 227.5L536.7 228.8L524.7 230.4L500.7 234.5L457.7 243.2L452.7 242.9L447.7 241.1L443.4 238L440.3 234L438.9 231L437.9 227L437.9 223L438.7 219L441.1 214L451.7 198L457.7 190L472.7 176.8L483.7 162.6L496.6 150L498.6 147L500.1 142L506.2 109L513.8 91L519 72L523.4 62L530.2 49L534.4 44L539.7 40.1L544.7 38L549.7 36.9L555.7 36.8L560.7 37.8L565.7 39.9L570.2 43L573.7 46.5L576.7 51L586.4 71L592 91L599 107L602.6 124L605.9 143L607.2 147L609.7 150.5L621.7 162.2L633.3 177L649.7 191.8L663.7 212.4L666.8 218L667.8 222L668 226L667.3 230L665.6 234L662.7 237.8L659.7 240.2L655.7 242.2L651.7 243.1ZM564.5 221L578.7 219.4L612.7 213.4L619.1 212L620.4 211L620.5 210L615.2 188L607.6 171L603 155L601.1 151L597.7 147.5L570.7 126L558.7 111.1L554.7 107.1L552.7 106.4L550.7 107.5L546.3 112L535.1 126L507.7 147.8L504.7 151L502.8 155L498.2 171L490.6 188L485.3 210L485.7 211.4L488.7 212.5L529.7 219.8L551.7 221.9L564.5 221Z"/>
<path fill="#e6e446" fill-rule="evenodd" d="M653.7 242.1L646.7 242.4L609.7 234.8L587.7 230.9L573.7 228.7L553.7 226.9L535.7 228.3L523.7 230L500.7 233.9L457.7 242.5L452.7 242.3L447.7 240.4L443.7 237.5L440.7 233.5L439.2 230L438.4 226L439.3 219L441.8 214L453.8 196L458.7 189.9L473.4 177L484.7 162.4L496.5 151L498.8 148L500.5 143L506.8 109L514.5 91L519.6 72L524.1 62L530.7 49.4L534.7 44.6L539.7 40.8L544.7 38.6L549.7 37.5L554.7 37.4L559.7 38.2L564.7 40.1L569.3 43L573.3 47L576 51L586.2 72L591.3 91L598.7 108L605.3 143L607 148L609.3 151L620.8 162L632.7 177.3L649 192L662.7 212L666.1 218L667.2 222L667.4 226L666.6 230L665.4 233L663.4 236L660.7 238.7L657.7 240.7L653.7 242.1ZM560.5 222L576.7 220.3L601.7 216.1L618.7 212.8L620.8 212L621.4 211L615.8 188L607.9 170L603.3 154L601.9 151L598 147L571.6 126L559.4 111L554.7 106.4L552.7 105.6L550.7 106.7L546.4 111L534.2 126L507.7 147.1L503.9 151L502.5 154L497.9 170L490 188L484.4 211L485 212L487.9 213L528.7 220.2L551.7 222.5L560.5 222Z"/>
<path fill="#ede242" fill-rule="evenodd" d="M654.7 241.2L650.7 242L646.7 241.7L593.7 231.3L574.7 228.2L553.7 226.1L523.7 229.3L500.7 233.3L457.7 241.9L452.7 241.6L447.7 239.7L444.1 237L441.1 233L439.8 230L439 226L439.2 222L439.9 219L442.5 214L454.6 196L459.4 190L473.7 177.5L485 163L497.3 151L499.6 148L501.1 143L507.1 110L508.8 105L514.7 92L519.9 73L524.3 63L531.1 50L534.7 45.4L539.7 41.6L544.7 39.3L549.7 38.1L554.7 38L559.7 38.8L564.7 40.8L568.7 43.3L572.5 47L575.3 51L585.5 72L590.7 91L598.1 108L604.9 144L606.2 148L608.5 151L620.7 162.8L632.6 178L648.3 192L661.3 211L665.5 218L666.4 221L666.8 225L666.3 229L665.2 232L663.4 235L660.7 237.9L654.7 241.2ZM557.5 223L576.7 220.9L601.7 216.7L620.5 213L622.1 212L622.3 211L620.1 204L616.1 187L608.5 170L602.7 151L598.9 147L571.7 125.3L559.3 110L554.7 105.6L552.7 104.8L550.7 105.9L545.7 110.8L533.7 125.7L506.9 147L503.1 151L497.3 170L489.7 187L485.5 205L483.5 211L483.7 212.1L486.7 213.4L523.4 220L550.7 223.3L557.5 223Z"/>
<path fill="#f3e13e" fill-rule="evenodd" d="M652.7 241.1L646.7 241.1L601.4 232L556.2 225L557.7 224L578.7 221.2L608.8 216L620.7 213.6L622.5 213L623.2 212L620.7 204L616.8 187L609.1 170L604.3 153L602.9 150L599.9 147L572.7 125.5L560.1 110L554.9 105L552.7 104L550.7 105.1L545.7 110L533.6 125L505.9 147L502.9 150L501.5 153L497 169L489.1 187L485.2 204L482.6 212L483.3 213L484.7 213.5L497 216L526.7 221.1L548.1 224L549.6 225L504.4 232L457.7 241.3L452.7 241L448.7 239.6L444.7 236.8L441.8 233L440.4 230L439.6 226L439.8 222L440.6 219L443.2 214L455.3 196L460.2 190L474 178L485.7 163L498.2 151L500.4 148L507.7 110L515.7 91L520.5 73L524.9 63L531.8 50L535.7 45.3L540.7 41.7L544.7 39.9L549.7 38.7L554.7 38.6L559.7 39.4L564.7 41.4L568.7 44.1L572.6 48L575.2 52L584.9 72L590.7 92.8L597.5 108L601.1 125L604.5 145L605.9 149L620.1 163L631.8 178L647.5 192L659.3 209L664.8 218L666 222L666.2 226L665.4 230L664 233L659.6 238L656.7 239.8L652.7 241.1Z"/>
<path fill="#f7dc3a" fill-rule="evenodd" d="M653.7 240.3L650.7 240.8L646.7 240.6L604.5 232L562.9 225L564.1 224L595.7 219L620.7 214.2L623.7 213.1L624.1 212L621.2 204L617.3 187L609 168L606.4 159L604.4 150L573 125L561.8 111L554.6 104L552.7 103.3L550 105L543.7 111.4L532.8 125L501.7 149.8L501.3 149L504 132L508 111L509.7 106L515.7 92.7L520.7 74L525.1 64L531.8 51L535.7 46.1L540.7 42.3L544.7 40.5L549.7 39.3L554.7 39.2L559.7 40.1L564.7 42.1L568.7 44.8L571.8 48L574.6 52L584.3 72L589.7 91.6L597.2 109L605 150L611.7 155.5L618.4 162L631.7 178.7L646.7 192L651.2 198L664.2 218L665.2 221L665.7 225L665.1 229L663.9 232L662 235L659.7 237.2L656.7 239.2L653.7 240.3ZM460.7 240.2L455.7 240.8L451.7 240.2L447.7 238.4L443.8 235L441.4 231L440.3 227L440.4 222L441.6 218L453.3 200L459.1 192L474.8 178L484.8 165L489.7 159.6L500.7 149.8L501.2 150L499.4 159L497.1 167L488.5 187L484.3 205L481.7 212L482 213L484.7 214.1L504.6 218L541.7 224L542.9 225L501.3 232L460.7 240.2Z"/>
<path fill="#f9d537" fill-rule="evenodd" d="M602.7 147L600.7 146.1L591.7 139.5L573.8 125L570.7 121.8L560.7 109L555.5 104L552.7 102.7L550.3 104L544.7 109.4L534.9 122L531.7 125.3L507.7 144.3L503.7 146.9L502.7 146.5L504.3 133L508.6 111L510.3 106L516.7 91.5L521.3 74L526.2 63L532.5 51L535.7 46.9L540.7 43L544.7 41.1L549.7 39.8L554.7 39.7L558.7 40.3L562.7 41.7L566.7 44L570.2 47L573.3 51L580.1 64L584.1 73L589.6 93L597 110L602.1 137L603.2 145L602.7 147ZM458.7 240.1L454.7 240.2L450.7 239.3L446.7 237L443.7 234L441.6 230L440.7 226L440.9 222L442.2 218L455.3 198L459.7 192.1L475.5 178L485.5 165L490.7 159.4L496.7 154L498.7 152.8L499.6 153L499.3 157L497.2 165L495.1 171L488.2 186L484.1 204L481 213L482.1 214L484.7 214.7L536 224L537.2 225L498.5 232L458.7 240.1ZM651.7 240.1L646.7 240L607.3 232L568.6 225L569.8 224L620.7 214.8L623.8 214L624.9 213L621.8 204L617.7 186.4L610.7 171L608.3 164L606.3 156L606.1 154L606.7 152.7L610.7 155.3L617.7 162L631.2 179L646.7 192.8L663.1 217L664.4 220L665.1 224L664.8 228L663.3 232L661.2 235L658.7 237.3L655.7 239L651.7 240.1Z"/>
<path fill="#fbce34" fill-rule="evenodd" d="M601.7 145.6L599.7 144.8L592.7 139.6L574.5 125L571.5 122L560.7 108.3L555 103L552.7 102L549.7 103.9L544.4 109L535.1 121L531.3 125L509.7 142.2L505.7 145L503.7 145.4L503.3 143L504.2 137L509.1 111L516.7 93L521.5 75L526.2 64L533.1 51L536.3 47L540.7 43.5L544.7 41.6L549.7 40.4L554.7 40.2L558.7 40.9L562.7 42.3L567.2 45L570.5 48L573.4 52L583.6 73L588.7 92L596.5 110L602.1 140L602.5 144L601.7 145.6ZM460.7 239.1L456.7 239.8L452.7 239.3L448.7 237.7L445.2 235L442.6 231L441.4 227L441.3 223L442.3 219L447.2 211L459.6 193L475.7 178.5L486.1 165L490.7 160.1L496.7 154.8L497.7 154.3L498.7 154.5L498.6 158L496.4 166L487.7 186L483.5 204L480.1 213L480.7 214L483.7 215L527.3 223L531.7 224L532.6 225L529.4 226L501.1 231L460.7 239.1ZM653.7 239.2L650.7 239.7L646.7 239.5L604.7 231L576.4 226L573.2 225L574.1 224L578.5 223L622.1 215L625.1 214L625.7 213L622.3 204L617.7 185L611.3 171L609.1 165L607.1 157L607 155L607.7 154.2L611.7 156.9L617.9 163L630.7 179.2L646.2 193L662.5 217L664.5 223L664.5 227L663.7 230L662.1 233L659.7 235.8L656.7 238L653.7 239.2Z"/>
<path fill="#fcc632" fill-rule="evenodd" d="M600.7 144.4L591.7 138.3L574.7 124.6L571.3 121L561.1 108L555.7 102.9L552.7 101.4L549.7 103.3L543.8 109L534.5 121L530.6 125L508.7 142.4L505.7 144.3L504.7 144.5L504.2 144L504.1 141L505.1 134L509.5 111L517.5 92L522.3 74L527.3 63L533.6 51L537 47L541.7 43.5L545.7 41.8L549.7 40.8L554.7 40.7L558.7 41.4L562.7 42.8L566.7 45.2L569.8 48L572.8 52L583.1 73L588.7 93.3L596 110L601.5 139L601.8 143L601.7 144L600.7 144.4ZM458.7 239.1L454.7 239.2L450.7 238.2L447 236L444.2 233L442.7 230L441.7 226L441.9 222L443.3 218L460.2 193L475.9 179L485.9 166L490.7 160.8L495.7 156.3L497.7 155.7L498 158L496.2 165L494 171L487.6 185L483.1 204L479.7 212L479.6 214L481.5 215L486.2 216L524.3 223L528.2 224L529 225L521.2 227L498.5 231L458.7 239.1ZM651.7 239.1L646.7 239L607.3 231L584.6 227L576.8 225L577.6 224L581.5 223L619.6 216L624.3 215L626.2 214L626.1 212L622.5 203L618.7 186.4L610.3 167L608.2 160L607.9 156L608.7 155.6L609.7 156L614.7 160.4L619.9 166L629.9 179L645.6 193L662.5 218L664.1 224L663.8 228L662.7 231L660.7 234.1L657.7 236.8L654.7 238.3L651.7 239.1Z"/>
<path fill="#fbbc31" fill-rule="evenodd" d="M600.7 143.3L598.7 142.8L595.7 140.8L575.7 124.9L571.9 121L561.7 108L555.7 102.4L552.7 100.9L549.7 102.7L544.1 108L533.9 121L529.9 125L509.7 141.1L506.7 143.1L505.7 143.4L504.8 143L505.4 135L510 111L517.7 93L522.5 75L527.3 64L533.6 52L536.7 47.9L540.7 44.7L544.7 42.6L548.7 41.5L553.7 41.1L557.7 41.6L561.7 42.9L565.7 45.1L569.2 48L572.2 52L578.5 64L583 74L588.1 93L595.5 110L600.4 135L601.2 141L600.7 143.3ZM460.7 238.1L456.7 238.8L452.7 238.4L448.7 236.6L445.7 234.1L443.6 231L442.3 227L442.2 223L443.3 219L459.9 194L475.7 179.9L488.2 164L493.7 158.6L496.7 156.8L497.2 159L495.4 166L487.1 185L482.6 204L478.8 214L479.8 215L482.7 215.8L521.4 223L525.2 224L526 225L518.4 227L460.7 238.1ZM653.7 238.2L650.7 238.8L646.7 238.5L587.4 227L579.8 225L580.6 224L584.4 223L622.7 215.8L626 215L627 214L626.6 212L623.2 204L618.7 185L610.4 166L608.8 160L608.7 157.1L610.7 157.5L614.7 161L619.3 166L629.3 179L645 193L662 218L663.2 221L663.7 224L662.6 230L659.2 235L656.7 236.9L653.7 238.2Z"/>
<path fill="#fab331" fill-rule="evenodd" d="M599.7 142.4L593.7 138.8L575.7 124.3L572.5 121L561.7 107.4L555.7 101.8L552.7 100.3L549.7 102.2L543.5 108L533.3 121L529.7 124.7L509.7 140.6L506.7 142.3L505.4 142L505.2 139L505.9 134L510.2 112L511.9 107L517.8 94L522.9 75L527.3 65L534.1 52L537.3 48L541.7 44.6L545.7 42.7L549.7 41.8L554.7 41.6L558.7 42.3L562.7 43.8L566.7 46.4L569.7 49.2L572.3 53L582.5 74L587.7 93.1L595.1 110L600.2 136L600.6 141L599.7 142.4ZM458.7 238.1L454.7 238.3L451.7 237.6L448.5 236L445.4 233L443.6 230L442.6 226L442.8 222L443.8 219L460.5 194L476.2 180L488.7 164.1L492.7 160.2L495.7 158.1L496.4 159L496.4 160L494.9 166L486.7 184.8L482.1 204L478.1 214L478.6 215L480.7 215.8L518.7 223L522.4 224L523.1 225L515.7 227L458.7 238.1ZM651.7 238.2L646.7 238.1L590.1 227L582.7 225L583.4 224L587.1 223L624.7 215.9L627.2 215L627.7 214.2L623.4 203L619.2 185L610.9 166L609.5 161L609.7 158.2L611.7 159L617 164L629.6 180L645.3 194L661.5 218L663.2 224L662.8 228L661.7 231L657.7 235.7L654.7 237.4L651.7 238.2Z"/>
<path fill="#f9aa30" fill-rule="evenodd" d="M599.7 141.3L598.7 141.4L595.7 139.8L576.7 124.7L573 121L561.9 107L555.3 101L552.7 99.8L549.3 102L542.9 108L533.6 120L529.7 124.1L510.7 139.3L507.7 141.2L506.7 141.5L506 141L506.2 135L510.6 112L518.7 92.6L523.4 75L527.3 66L534 53L537.7 48.2L541.7 45.1L545.7 43.2L549.7 42.2L553.7 42L557.7 42.5L561.7 43.8L565.7 46.1L568.7 48.8L571.2 52L578 65L582.1 74L587.7 94.4L594.6 110L599.5 134L600.1 139L599.7 141.3ZM460.7 237.2L456.7 237.9L452.7 237.5L449.7 236.2L446.7 233.9L444.6 231L443.2 227L443.1 223L444.3 219L461.1 194L476.8 180L488.5 165L491.7 161.7L494.7 159.6L495.5 160L495.6 161L494.8 165L486.2 185L482 203L477.7 213L477.7 215L480.7 216.2L516 223L519.7 224L520.4 225L513.2 227L460.7 237.2ZM653.7 237.3L650.7 237.9L646.7 237.6L591.7 226.8L585.4 225L586.1 224L589.8 223L624.7 216.3L628.1 215L628.1 213L624.1 204L619.6 185L611.3 166L610.2 161L610.7 159.5L612.7 160.5L617.3 165L629.1 180L644.7 194L661 218L662.7 223L662.1 229L659 234L656.7 235.9L653.7 237.3Z"/>
<path fill="#f8a030" fill-rule="evenodd" d="M598.7 140.6L593.7 137.8L576.5 124L572.7 120L562.4 107L555.7 100.8L552.7 99.3L548.7 102L542.7 107.7L533.1 120L529.3 124L510.7 138.9L507.7 140.5L506.4 140L506.9 133L511 112L518.7 93.8L523.4 76L528.2 65L534.4 53L537.7 48.7L541.7 45.5L545.7 43.6L549.7 42.6L553.7 42.4L557.7 42.9L561.7 44.2L565.7 46.6L568.7 49.3L571.4 53L581.2 73L583 78L586.8 93L594.2 110L599.3 135L599.6 139L598.7 140.6ZM459.7 237.1L455.7 237.5L452.7 237.1L449.7 235.8L446.4 233L444.5 230L443.4 226L443.5 223L444.7 219L461.6 194L477.3 180L490.7 163.3L493.7 161L494.7 161.1L494.7 163.3L493.3 168L485.7 185.2L481.3 204L477.2 213L476.9 215L478.2 216L480.7 216.6L513.7 223L517.1 224L517.7 225L510.8 227L459.7 237.1ZM652.7 237.2L647.7 237.4L595 227L588 225L588.7 224L592.1 223L625.7 216.5L627.7 216L628.9 215L628.6 213L624.2 203L619.7 184.1L612.1 167L611.1 163L611.4 161L613.7 162L616.7 164.9L628.7 180.2L644.2 194L660.6 218L661.9 221L662.4 224L662.2 227L661.3 230L657.7 234.7L652.7 237.2Z"/>
<path fill="#f69430" fill-rule="evenodd" d="M598.7 139.6L596.7 139.4L593.7 137.4L576.7 123.7L573.2 120L562.7 106.7L555.7 100.4L552.7 98.8L549.3 101L542.9 107L532.6 120L528.7 124L510.7 138.4L507.7 139.8L506.8 139L507.2 133L511.3 112L518.7 94.9L524.2 75L528.1 66L534.9 53L537.9 49L542.7 45.4L546.7 43.7L550.7 42.8L554.7 42.8L558.7 43.5L562.7 45.2L565.7 47.1L568.7 49.9L571 53L581.3 74L586.7 93.8L594.2 111L598.7 134L599.1 138L598.7 139.6ZM457.7 237.1L454.7 237.1L451.7 236.3L448.7 234.7L446.1 232L444.5 229L443.8 226L444 222L445.1 219L461.7 194.4L476.8 181L488.7 166L491.7 163L493.7 162.2L494 164L493.3 167L485.7 184.1L481.3 203L476.3 215L477.1 216L479.7 216.8L511.6 223L514.8 224L515.5 225L508.7 227L457.7 237.1ZM650.7 237.1L646.7 236.8L597.1 227L590.3 225L591 224L594.2 223L625.7 216.9L628.8 216L629.6 215L624.9 204L619.7 183L612.5 167L611.7 163L612.7 162.2L617.7 166.7L628 180L644.6 195L660.7 219L661.8 222L662.1 225L661.6 228L660.4 231L658.7 233.2L655.7 235.6L650.7 237.1Z"/>
<path fill="#f38830" fill-rule="evenodd" d="M597.7 139.1L592.7 136.2L576.7 123.2L562.7 106.3L555.7 99.9L552.7 98.4L548.8 101L542.4 107L532.2 120L528.7 123.6L511.7 137.3L508.7 139L507.7 139L507.1 137L507.4 134L511.4 113L513.1 108L519.7 93.1L524.1 76L529 65L535.3 53L538.4 49L542.7 45.8L546.7 44L550.7 43.2L554.7 43.1L558.7 43.9L562.7 45.5L565.7 47.5L568.7 50.4L571.1 54L581.3 75L586.7 94.8L593.8 111L598.4 134L598.6 138L597.7 139.1ZM460.7 236.1L456.7 236.8L453.7 236.6L450.7 235.5L447.4 233L445.3 230L444.3 227L444.2 223L445 220L461.7 195L477.7 180.6L488.7 166.6L492.7 163.3L493.2 164L492.8 167L485.7 183.1L480.9 203L475.7 215.1L476.2 216L478.7 216.9L509.5 223L512.9 224L513.5 225L507.7 226.8L460.7 236.1ZM653.7 236.1L650.7 236.8L647.7 236.7L597.7 226.7L592.3 225L592.9 224L596.3 223L627.7 216.8L629.7 216L630.1 215L625.2 204L620.8 185L613.7 169L612.7 166L612.7 163.5L613.7 163.5L616.7 166.1L628.5 181L643.7 194.5L660.3 219L661.7 224L660.9 229L658.4 233L653.7 236.1Z"/>
<path fill="#f17b30" fill-rule="evenodd" d="M597.7 138.3L596.7 138.3L593.7 136.6L577.7 123.7L574 120L567.3 111L562.9 106L555 99L552.7 98L549.5 100L542 107L531.8 120L528.7 123.2L511.7 136.9L508.7 138.4L507.7 137.9L508 132L512 112L519.7 94.1L524.5 76L529.4 65L535.7 53L538.7 49.2L542.7 46.2L549.7 43.6L553.7 43.4L557.7 44L561.7 45.4L564.7 47.2L567.7 49.8L570.2 53L576.4 65L580.9 75L586.4 95L593.5 111L598.1 134L598.2 137L597.7 138.3ZM458.7 236.2L454.7 236.4L451.7 235.6L449 234L447 232L445.2 229L444.5 226L444.5 223L445.4 220L462.1 195L477.8 181L488.7 167.2L491.7 164.6L492.5 165L492.1 168L485 184L480.6 203L475.5 214L475.4 216L477.7 217L507.7 223L511 224L511.6 225L504.8 227L458.7 236.2ZM652.7 236.1L647.7 236.3L601 227L594.2 225L594.8 224L598.1 223L627.7 217.1L630.4 216L630.3 214L625.2 203L620.7 183.8L613.7 168L613.3 166L613.7 164.5L615.7 165.7L617.7 167.9L628.1 181L643.7 195L659.9 219L661.4 224L660.6 229L657.7 233.3L652.7 236.1Z"/>
<path fill="#ef6f30" fill-rule="evenodd" d="M597.7 137.2L596.7 137.8L593.7 136.2L577.7 123.3L574.4 120L563.3 106L555.5 99L552.7 97.6L549.7 99.5L542.5 106L531.4 120L527.7 123.7L511.7 136.5L508.7 137.8L508 137L508.3 132L512.3 112L519.7 95L525.2 75L529.2 66L536 53L538.7 49.6L542.7 46.5L549.7 44L553.7 43.7L557.7 44.3L561.7 45.8L564.7 47.6L567.7 50.3L570.4 54L580.2 74L582 79L585.7 93.9L593.2 111L597.3 131L597.7 137.2ZM457.7 236.1L454.7 236.1L451.7 235.3L448.7 233.4L446.6 231L445.2 228L444.7 225L445.1 222L446.2 219L462.5 195L478.2 181L488.7 167.8L490.7 165.9L491.7 165.9L490.9 170L484.7 184L479.9 204L475.1 214L474.8 216L477.7 217.4L505.9 223L509.3 224L509.9 225L503.2 227L457.7 236.1ZM650.7 236.1L647.7 236L603.7 227.2L595.9 225L596.5 224L599.9 223L628.7 217.2L630.9 216L630.7 214L625.9 204L621.7 186L614.7 169.5L614.2 166L614.7 165.8L616.7 167.3L627.7 181.1L643.3 195L659.6 219L661.1 224L660.8 227L659.8 230L657.7 232.8L655.7 234.4L650.7 236.1Z"/>
<path fill="#ed6330" fill-rule="evenodd" d="M596.7 137.2L592.7 135.1L577.7 122.9L574 119L563.7 106L554.7 98L552.7 97.2L548.6 100L541.7 106.4L531 120L528 123L512.7 135.4L509.7 137.2L508.7 137L508.5 133L512.4 113L520 95L525.1 76L529.1 67L535.8 54L538.8 50L542.7 46.9L545.7 45.4L549.7 44.3L553.7 44L557.7 44.6L561.7 46.1L564.7 48L567.7 50.7L570 54L580.3 75L585.7 94.8L592.8 111L597.3 133L597.5 136L596.7 137.2ZM460.7 235.1L456.7 235.9L453.7 235.6L450.7 234.4L447.8 232L445.9 229L445.1 226L445.2 223L446.1 220L462.7 195.2L478.6 181L487.7 169.6L490.7 167L490.7 169.3L484.1 185L479.9 203L474.8 214L474.4 216L476.7 217.4L504.3 223L507.6 224L508.3 225L501.6 227L460.7 235.1ZM653.7 235.1L650.7 235.8L647.7 235.7L604.2 227L597.5 225L598.1 224L601.5 223L628.7 217.5L630.5 217L631.5 216L631 214L625.9 203L621.7 184.9L615.1 169L614.8 168L615.7 167.2L627.2 181L642.9 195L659.2 219L660.6 223L660.3 228L657.7 232.4L653.7 235.1Z"/>
<path fill="#eb5730" fill-rule="evenodd" d="M596.7 136.4L595.7 136.5L593.7 135.4L577.7 122.5L563.7 105.6L554.7 97.6L552.7 96.8L549.7 98.7L541.7 106L531.4 119L527.7 122.9L511.7 135.7L509.7 136.6L508.8 136L509.1 131L512.9 112L520.7 94L525.4 76L529.4 67L536.1 54L539.2 50L542.7 47.2L545.7 45.7L549.7 44.6L553.7 44.3L557.7 44.9L561.7 46.4L564.7 48.3L567.5 51L569.7 54L580 75L585.5 95L592.5 111L596.9 132L597.1 135L596.7 136.4ZM459.7 235.1L456.7 235.6L453.7 235.3L450.7 234.1L448.2 232L446.2 229L445.4 226L445.5 223L446.4 220L462.7 195.7L478.7 181.3L487.7 170.3L489.7 168.6L489.7 170.6L483.7 185.3L479.3 204L473.9 216L474.5 217L475.7 217.5L502.8 223L506.1 224L506.8 225L500.1 227L459.7 235.1ZM652.7 235.1L647.7 235.4L605.7 227L599 225L599.7 224L603 223L629.7 217.6L631.3 217L631.9 216L626.5 204L621.7 184L615.8 169L616.7 168.9L617.7 169.8L627.8 182L642.5 195L658.9 219L660.4 224L659.6 229L656.7 232.9L652.7 235.1Z"/>
<path fill="#ea4d30" fill-rule="evenodd" d="M595.7 136.1L591.7 133.6L577.7 122.2L563.7 105.2L554.7 97.2L552.7 96.5L549.7 98.4L541.3 106L528.3 122L513.7 133.9L510.7 135.9L509.6 136L509.1 135L509.2 132L513 113L520.7 94.8L525.7 76.2L530.2 66L536.4 54L539.6 50L542.7 47.5L545.7 46L549.7 44.9L553.7 44.6L557.7 45.2L561.7 46.7L564.7 48.7L569.4 54L579.6 75L585.2 95L592.2 111L596.7 133L596.7 135.3L595.7 136.1ZM488.7 171.6L488.1 171L488.7 170.7L488.7 171.6ZM651.7 235.1L647.7 235.1L607.2 227L600.5 225L601.2 224L604.5 223L629.7 217.9L631.9 217L632.3 216L626.5 203L622.3 185L617.7 173.5L617.2 171L617.7 170.8L618.7 171.7L627.4 182L642.2 195L658.7 219.3L660.2 224L659.3 229L656.2 233L651.7 235.1ZM458.7 235L455.7 235.3L452.7 234.7L449.7 233L447.7 231L445.7 226L445.8 223L446.7 220L462.8 196L466.7 192L478.7 181.7L487.7 171.1L488.6 172L483.5 185L479.3 203L473.5 216L473.9 217L475.7 217.8L501.3 223L504.6 224L505.3 225L498.6 227L458.7 235Z"/>
<path fill="#e94730" fill-rule="evenodd" d="M595.7 135.5L592.7 134L577.9 122L563.9 105L554.7 96.9L552.7 96.1L547.7 99.7L540.9 106L527.7 122.2L512.7 134.3L510.7 135.4L509.7 135.2L509.7 131L513.2 113L520.9 95L526.1 76L530.5 66L536.8 54L539.7 50.3L543.7 47.3L546.7 45.9L550.7 45L557.7 45.5L561.6 47L564.7 49L569 54L579.3 75L584.9 95L591.9 111L596.1 131L596.4 134L595.7 135.5ZM649.7 235L608.7 227L602 225L602.6 224L605.9 223L629.7 218.2L632.5 217L632.5 215L626.7 202.8L622.9 186L618.7 174.5L618.7 172.9L627 182L642.7 196L658.8 220L659.9 225L658.4 230L654.7 233.6L649.7 235ZM461.7 234L457.7 234.9L454.7 234.9L451.8 234L449.7 232.7L447.4 230L446.2 227L445.9 224L446.6 221L463.2 196L478.8 182L486.7 173.1L486.9 175L483.2 185L479 203L473.3 215L473.3 217L475.7 218.1L499.9 223L503.2 224L503.8 225L497.1 227L461.7 234Z"/>
<path fill="#e94030" fill-rule="evenodd" d="M595.7 134.7L594.7 134.8L592.7 133.6L578.3 122L564.3 105L554.7 96.5L552.7 95.7L549.7 97.7L540.7 105.8L527.5 122L512.7 133.9L510.7 134.9L509.8 134L513.5 113L521.2 95L526.4 76L536.7 54.7L539.4 51L543.1 48L549.7 45.4L556.7 45.6L560.7 46.9L563.7 48.6L566.4 51L568.7 54L579 75L584.6 95L591.7 111.1L595.7 130.1L595.7 134.7ZM485.7 176.7L484.9 176L485.7 175.5L485.7 176.7ZM652.7 234.2L647.7 234.5L610.1 227L603.3 225L604 224L607.3 223L630.7 218.3L633 217L632.8 215L626.7 202L623.2 186L620.1 176L620.7 175.7L627.7 183L641.7 195.3L657.9 219L659.5 223L659 228L656.7 231.8L652.7 234.2ZM459.7 234.2L456.7 234.7L453.7 234.4L449.4 232L447.7 230L446.5 227L446.2 224L446.9 221L463.5 196L478.2 183L484.7 176.1L485.6 177L482.6 186L479.1 202L473 215L472.8 217L475.7 218.4L498.5 223L501.8 224L502.5 225L495.7 227L459.7 234.2Z"/>
<path fill="#e83a30" fill-rule="evenodd" d="M594.7 134.3L591.7 132.5L578.7 122L564.7 105L554.7 96.2L552.7 95.4L550.7 96.4L540.7 105.4L527 122L513.7 132.8L511.7 134.1L510.4 134L510.4 130L513.8 113L521.2 96L526.7 76L530.7 66.9L537.4 54L539.8 51L543.7 47.9L546.7 46.5L550.7 45.6L557.7 46.1L563.7 49L566.7 51.8L568.7 54.6L578.7 75L584.3 95L591.7 112L595.5 131L595.7 133.1L594.7 134.3ZM458.7 234.1L453.4 234L450.7 232.7L448.8 231L447.5 229L446.6 226L447.2 221L463.9 196L483.8 178L484.3 179L478.8 202L472.6 215L472.3 217L474.7 218.5L497 223L500.4 224L501.1 225L494.2 227L458.7 234.1ZM651.7 234.2L647.7 234.2L611.6 227L604.7 225L605.4 224L608.8 223L630.7 218.6L632.5 218L633.5 217L633.2 215L627 202L621.7 180L621.7 177.8L641.7 195.7L658.1 220L659.3 225L658.3 229L655.7 232.3L651.7 234.2Z"/>
<path fill="#e83830" fill-rule="evenodd" d="M594.7 133.6L591.7 132.1L578.7 121.6L564.7 104.6L554.7 95.8L552.7 95L550.7 96.1L540.7 105L529.7 118.9L526.7 121.9L513.7 132.4L511.7 133.6L510.7 133.3L510.7 130L514.1 113L521.8 95L526.7 76.7L530.7 67.6L537.7 54.1L540.2 51L543.7 48.3L546.7 46.9L550.7 45.9L557.7 46.4L563.7 49.4L566.5 52L568.6 55L578.7 75.7L584.3 96L591.4 112L595.1 130L595.3 132L594.7 133.6ZM457.7 234L452.7 233.4L448.7 230.4L446.9 226L446.9 223L447.7 220.6L464.3 196L482.7 179.8L483 182L478.7 201.2L476.9 206L472.3 215L471.8 217L473.7 218.5L495.5 223L499 224L499.7 225L492.7 227L457.7 234ZM650.7 234.1L647.7 233.9L613.1 227L606.1 225L606.8 224L610.3 223L631.7 218.6L633.3 218L634 217L633.5 215L627.3 202L622.7 181.7L622.7 179.7L641.5 196L657.8 220L659 225L658 229L654.7 232.6L650.7 234.1Z"/>
<path fill="#e73631" fill-rule="evenodd" d="M511.7 133L511 132L511.2 129L514.7 112L522.1 95L525.7 80.8L527.7 75L537.5 55L541.8 50L547.7 46.8L554.7 46.2L558.6 47L561.7 48.4L565.2 51L567.7 54.1L573.7 65.4L578.7 76.5L584 96L591.7 114L594.7 129.6L594.7 132.6L593.7 132.9L591.7 131.7L579.6 122L576.6 119L569.1 109L564.7 104.2L554.7 95.4L552.7 94.6L550.7 95.7L540.3 105L527.3 121L514.7 131.3L511.7 133ZM460.7 233.1L454.7 233.7L452.4 233L449.7 231.1L448.2 229L447.2 226L447.9 221L464.7 196L481.7 181.4L482.4 182L482.3 183L478.4 201L471.4 217L471.8 218L473.7 218.9L493.9 223L497.4 224L498.1 225L491.2 227L460.7 233.1ZM652.7 233.3L647.7 233.6L614.6 227L607.6 225L608.4 224L611.9 223L631.7 219L634 218L634.4 217L627.6 202L623.6 184L623.7 181.3L637 192L641.1 196L657.4 220L658.7 224L658.1 228L656.2 231L652.7 233.3Z"/>
<path fill="#e73531" fill-rule="evenodd" d="M593.7 132.3L589.7 129.8L579 121L565 104L554.7 95L552.7 94.1L550.7 95.3L539.8 105L526.7 121.1L514.7 130.9L512.7 132.1L511.6 132L511.7 128L514.7 113.1L522.1 96L527.6 76L537.7 55.3L540.1 52L543.7 49L547.7 47.2L550.7 46.5L557.5 47L563.5 50L567.9 55L577.8 75L579.7 80.5L583.3 95L590.7 111.9L594.2 129L594.4 131L593.7 132.3ZM458.7 233.2L453.7 233.1L449.7 230.6L448.5 229L447.5 226L447.6 223L448.2 221L465.1 196L478.7 184.2L480.7 182.7L481.7 182.9L477.8 202L471.1 216L471.2 218L473.7 219.2L492.3 223L495.8 224L496.5 225L489.6 227L458.7 233.2ZM651.7 233.2L647.7 233.3L616.3 227L609.3 225L610 224L613.5 223L631.7 219.3L634.6 218L634.9 217L634.2 215L629.7 206.3L627.7 201.2L624.3 185L624.3 183L624.7 182.6L636.5 192L640.7 196L657.1 220L658.4 224L657.8 228L655.7 231.1L651.7 233.2Z"/>
<path fill="#e63332" fill-rule="evenodd" d="M593.7 131.3L592.7 131.4L590.7 130.2L579.4 121L565.4 104L554.7 94.5L552.7 93.7L550.7 94.8L539.7 104.7L526.4 121L514.7 130.4L512.7 131.5L512 131L512.2 127L514.8 114L522.5 96L527.7 76.7L531.7 67.7L538.3 55L540.7 51.9L544.4 49L550.7 46.9L554.7 46.8L557.7 47.4L563.7 50.6L567.7 55.3L577.7 75.7L583.3 96L590.4 112L593.7 127.6L593.7 131.3ZM457.7 233L453.7 232.8L451.7 231.9L449.6 230L447.8 226L447.8 224L448.6 221L464.7 196.9L475.7 187.1L480.7 183.7L480.8 187L477.7 201.4L470.7 216L470.5 218L473.7 219.6L494 224L494.8 225L487.8 227L457.7 233ZM650.7 233.1L647.7 233L618 227L611 225L611.7 224L632.7 219.4L635.2 218L635.1 216L629.7 205.5L628 201L625.1 187L625 184L625.7 183.8L628.7 186L640.3 196L656.7 220L658 224L657.4 228L654.7 231.4L650.7 233.1Z"/>
<path fill="#e43232" fill-rule="evenodd" d="M592.7 130.6L589.7 129L579.7 120.8L565.9 104L554.7 94L552.7 93.2L550.7 94.3L539.7 104.2L525.9 121L515.7 129.2L513.7 130.5L512.7 130.5L512.7 126.1L515.4 113L523.2 95L528 77L532.7 66.5L538.7 55L541.1 52L544.7 49.2L550.7 47.2L553.7 47.1L557.7 47.8L560.7 49L563.7 51L567.7 56L577.7 76.7L583 96L590 112L593.2 127L593.3 130L592.7 130.6ZM460.7 232L454.7 232.7L450.7 230.6L448.8 228L448.2 226L448.7 221.6L465.1 197L470.3 192L479.7 184.8L480.3 186L480.2 188L477.4 201L475.7 205.6L470.3 216L469.9 218L471.7 219.4L488.7 223L492.2 224L492.9 225L486 227L460.7 232ZM652.7 232.2L650.7 232.7L647.7 232.6L619.8 227L612.9 225L613.6 224L617.1 223L633.7 219.5L635.9 218L635.5 216L628.7 202L625.7 188.6L625.7 184.9L626.7 185.1L630.7 188L640.7 197L656.3 220L657.7 224L657.4 227L655.7 230L652.7 232.2Z"/>
<path fill="#e03131" fill-rule="evenodd" d="M592.7 129.4L591.7 129.6L589.7 128.4L580.5 121L566.4 104L554.7 93.5L552.7 92.6L550.7 93.8L539.4 104L525.3 121L515.7 128.7L513.7 129.7L513 129L513.6 123L515.7 113.4L523.2 96L528.7 76.1L538.7 55.7L540.7 52.9L544.1 50L549.7 47.8L552.7 47.5L556.7 47.9L562.7 50.7L566.7 55.1L573.7 68.5L577.8 78L582.9 97L590.3 114L592.7 126L592.7 129.4ZM651.7 232.1L647.7 232.2L621.7 227L615 225L615.7 224L619 223L634.7 219.6L636 219L636.5 218L628.7 201L626.2 189L626.1 187L626.6 186L630.7 188.5L640.2 197L656.4 221L657.3 225L656.6 228L654.7 230.5L651.7 232.1ZM458.7 232.1L453.7 232L450.6 230L448.6 226L448.7 223L449.4 221L465.7 196.9L476.7 187.3L478.7 186L479.7 186.4L478.7 193.9L476.8 202L469.9 216L469.3 218L469.8 219L471.7 219.8L486.8 223L490.1 224L490.8 225L484.1 227L458.7 232.1Z"/>
<path fill="#dd3131" fill-rule="evenodd" d="M591.7 128.8L588.7 127.2L580 120L566.7 103.7L554.7 92.9L552.7 92L550.7 93.3L538.8 104L525.7 120.1L516.7 127.5L514.7 128.7L513.7 128.5L513.7 125L515.9 114L523.3 97L528.7 77.2L539 56L541.7 52.5L544.7 50.1L550.7 48L556.7 48.3L562.4 51L566.7 55.8L576.7 76.2L582.2 96L589.6 113L592.1 125L592.2 128L591.7 128.8ZM456.7 232L452.7 231.1L449.7 228.1L448.9 225L449.8 221L466.1 197L474.7 189.4L478.7 187L479 190L476.7 201L474.7 205.9L469.4 216L468.7 218L468.9 219L471.7 220.3L488 224L488.7 225L482.1 227L456.7 232ZM649.7 232L623.7 227L617.1 225L617.8 224L634.7 220.1L636.9 219L637.1 218L636.4 216L630.7 205L628.8 200L626.7 189L626.7 187.7L627.7 187.1L634.4 192L639.7 197L656 221L656.9 225L656.1 228L653.7 230.8L649.7 232Z"/>
<path fill="#d93030" fill-rule="evenodd" d="M591.7 127.1L590.7 127.7L589.7 127.3L580.7 120.2L567.5 104L554.7 92.3L552.7 91.4L538.3 104L525.3 120L516.7 126.9L514.7 127.7L514.2 127L514.4 123L516.3 114L524 96L529.2 77L539.5 56L541.7 53L544.7 50.6L550.7 48.4L556.7 48.7L561.7 51L564 53L566.3 56L572.7 68.3L577.3 79L582.1 97L589.5 114L591.7 127.1ZM459.7 231L455.7 231.6L451.7 229.9L450.2 228L449.4 226L449.8 222L465.8 198L470.9 193L477.7 188.1L478.4 189L478.4 191L476.2 201L468.4 217L468.1 219L470.7 220.5L485.9 224L486.5 225L480 227L459.7 231ZM651.7 231.3L647.7 231.4L625.8 227L619.3 225L619.9 224L635.7 220.3L637.7 219L637.4 217L629.7 201.5L627.6 192L627.7 188.2L628.7 188.3L631.7 190.4L639.7 197.6L655.5 221L656.5 224L656.1 227L654.7 229.3L651.7 231.3Z"/>
<path fill="#d1302f" fill-rule="evenodd" d="M590.7 126.6L588.7 126.1L581.1 120L567.7 103.6L554.7 91.7L552.7 90.7L537.7 104L524.7 120L516.7 126.3L515.7 126.7L514.7 126L516.8 114L524.1 97L529.7 76.9L539.7 56.5L541.7 53.7L544.9 51L550.7 48.8L556.7 49.2L561.7 51.5L565.8 56L572.7 69.3L576.9 79L581.7 97L589 114L590.9 123L590.7 126.6ZM457.7 231L453.7 230.7L450.7 228.1L449.7 225L450.7 221.2L466.7 197.6L474.7 190.5L476.7 189.3L477.7 189.6L477.6 193L475.7 201.3L467.9 217L467.4 219L468.7 220.3L480.4 223L483.6 224L484.3 225L477.8 227L457.7 231ZM650.7 231.1L647.7 231L628 227L621.5 225L622.2 224L625.4 223L636.7 220.5L638.4 219L637.9 217L630 201L628.1 192L628 190L628.7 189.2L633.7 192.5L639.4 198L655 221L656 224L655.6 227L653.7 229.7L650.7 231.1Z"/>
<path fill="#c7302d" fill-rule="evenodd" d="M589.7 125.7L586.7 124.1L580.7 119L567.7 103L554.7 91L552.7 90L537.1 104L524.7 119.4L517.7 125L515.7 125.6L515.5 122L517.2 114L524.3 98L529.8 78L539.9 57L542.7 53.3L545.7 51L550.7 49.3L556.7 49.6L561.7 52.1L565.7 56.7L572.7 70.4L576.7 79.8L581.2 97L588.7 114.4L590.4 123L590.4 125L589.7 125.7ZM459.7 230.2L455.7 230.7L453.7 230.2L452 229L450.3 226L450.8 222L466.7 198.3L472.7 192.6L476.7 190.4L477.1 193L475.3 201L466.7 219L467 220L468.7 220.9L478.2 223L481.4 224L482 225L475.6 227L459.7 230.2ZM651.7 230.3L647.7 230.5L630.2 227L623.8 225L624.4 224L627.6 223L637.7 220.7L638.8 220L639.1 219L630.7 201.7L629 195L628.7 190.8L629.7 190.4L631.7 191.5L638.7 197.8L654.5 221L655.6 224L655.5 226L653.8 229L651.7 230.3Z"/>
<path fill="#bd302b" fill-rule="evenodd" d="M589.7 124.3L588.7 124.6L587.7 124.1L581.7 119.3L568.4 103L554.7 90.3L552.7 89.3L536.7 103.8L524.4 119L517.7 124.3L516.7 124.6L516.1 124L516.1 121L517.7 114L525.1 97L530.6 77L540.5 57L542.7 53.9L545.7 51.6L550.7 49.8L556.7 50.1L561.7 52.7L565.3 57L571.7 69.3L575.9 79L581.1 98L588.1 114L589.7 121L589.7 124.3ZM457.7 230.1L454.7 230L451.8 228L450.7 225L451.3 222L466.7 199L471.6 194L475.7 191.4L476.4 192L476.5 194L474.9 201L466.4 218L466.1 220L467.7 221.1L479.1 224L479.8 225L473.3 227L457.7 230.1ZM650.7 230.1L647.7 230L632.5 227L626 225L626.7 224L637.7 221.3L639.7 220L638.9 217L630.9 201L629.3 194L629.7 191.5L632.7 192.8L638.7 198.5L653.9 221L655.1 224L654.7 226.8L653.1 229L650.7 230.1Z"/>
<path fill="#b33029" fill-rule="evenodd" d="M588.7 123.5L586.7 122.8L581.7 118.7L569 103L554.7 89.6L552.7 88.6L536.7 103.1L523.8 119L518.7 123.1L517.7 123.5L516.7 123.2L516.7 120.4L517.9 115L525.2 98L530.7 78L540.7 57.5L542.7 54.7L545.9 52L551.7 50.1L556.7 50.6L561.3 53L564.8 57L571.7 70.4L575.7 79.7L580.2 97L587.7 114.2L589.1 121L588.7 123.5ZM460.7 229L456.7 229.7L453.6 229L451.3 226L451.7 222.4L467.3 199L472.7 193.8L474.7 192.6L475.7 192.8L475.7 196L474 202L466.3 217L465.3 220L466.7 221.3L476.9 224L477.5 225L475.3 226L460.7 229ZM651.7 229.3L647.7 229.5L630.7 226L628.3 225L628.9 224L638.7 221.5L640.5 220L640 218L631.4 201L630 195L630.1 193L630.7 192.5L634.6 195L638.7 199.3L653.7 221.5L654.6 224L654.5 226L653.4 228L651.7 229.3Z"/>
<path fill="#a53028" fill-rule="evenodd" d="M587.7 122.4L584.7 120.7L580.8 117L573.2 107L567.7 101L558.7 93.1L554.7 88.8L552.7 87.8L536.1 103L523.7 118.4L518.7 122.3L517.4 122L517.5 119L518.7 114L526.1 97L529.7 82.7L531.7 77L541.6 57L543.7 54.4L546.7 52.1L551.7 50.7L556.7 51.1L561.7 54L564.7 57.8L570.7 69.5L575.3 80L580 98L587.7 116L588.5 121L587.7 122.4ZM457.7 229.1L454.7 229L452.7 227.5L451.7 225L452.4 222L467.7 199.3L471.7 195.3L474.7 193.7L475.1 196L473.7 201.4L464.6 220L465.7 221.6L474.6 224L475.2 225L472.8 226L457.7 229.1ZM650.7 229.1L647.7 229L637.4 227L630.6 225L631.2 224L639.7 221.8L640.9 221L641.2 220L632.4 202L630.9 197L630.7 194L631.7 193.7L632.7 194.2L637.8 199L652.8 221L654.1 224L653.9 226L652.7 228L650.7 229.1Z"/>
<path fill="#963028" fill-rule="evenodd" d="M586.7 121.2L581.5 117L573.1 106L568.7 101.2L559.4 93L554.7 88L552.7 87L551.7 87.4L546.7 92.7L535.3 103L523.7 117.6L519.7 120.9L518.4 121L518.1 119L518.7 115.9L526.4 98L531.7 78.5L541.7 57.9L543.7 55.2L546.3 53L550.7 51.4L555.7 51.5L560.7 53.9L563.7 57.3L570.7 70.8L574.7 80L579.4 98L586.8 115L587.8 120L587.5 121L586.7 121.2ZM459.7 228.1L455.7 228.6L453.7 227.7L452.5 226L452.6 223L467.7 200.2L470.7 196.9L473.7 194.9L474.3 197L472.8 202L463.8 220L463.9 221L464.9 222L471.9 224L472.6 225L470 226L459.7 228.1ZM651.7 228L649.7 228.6L647.7 228.4L635.8 226L633.2 225L633.9 224L640.9 222L641.9 221L642 220L632.7 201.4L631.7 198L631.7 195L633.7 195.7L637.7 199.7L652.7 221.9L653.5 225L652.8 227L651.7 228Z"/>
<path fill="#8e3028" fill-rule="evenodd" d="M586.7 119.4L585.7 119.6L582.7 117.3L570.4 102L559.3 92L554.7 87L552.7 86L551.7 86.4L546.5 92L535.4 102L523.4 117L520.7 119.3L519.7 119.7L519.1 119L520.4 113L527.3 97L530.7 83.4L532.7 77.7L541.8 59L543.8 56L546.7 53.5L550.7 52L555.7 52.1L559.8 54L563.4 58L573.7 79.1L578.1 96L580.3 102L585.7 113.6L586.7 117.2L586.7 119.4ZM461.7 227.1L456.7 228L454.7 227.6L453.2 226L453.3 223L467.7 201.3L470.7 197.9L472.7 196.7L473.1 199L471.7 203L463 220L462.9 221L463.7 222.3L468.7 224L469.4 225L461.7 227.1ZM651.7 227.2L648.7 228L639 226L636.4 225L637.1 224L641.7 222.5L643 221L642 218L633.7 202.1L632.7 199L632.7 196.8L634.7 197.6L637.7 200.8L651.7 221.5L652.8 225L651.7 227.2Z"/>
<g clip-path="url(#ct)">
<path fill="#422d74" fill-rule="evenodd" d="M689.7 277.3L416.7 277.3L416.3 9L416.7 8.6L689.7 8.6L690.1 9L689.7 277.3Z"/>
<path fill="#432f78" fill-rule="evenodd" d="M689.7 277.3L416.7 277.3L416.3 9L416.7 8.6L689.7 8.6L690.1 9L689.7 277.3Z"/>
<path fill="#44327c" fill-rule="evenodd" d="M689.7 277.3L416.7 277.3L416.3 9L416.7 8.6L689.7 8.6L690.1 9L689.7 277.3ZM564.9 219L562 217L559 216L553.7 215.5L547.8 216L544.8 217L541.6 219L564.9 219ZM555.1 234L559.7 233.2L562.7 232.1L564.3 231L564.7 230L541.7 230L542.7 231.3L546.7 233.1L551.7 234L555.1 234Z"/>
<path fill="#443581" fill-rule="evenodd" d="M689.7 277.3L416.7 277.3L416.3 9L416.7 8.6L689.7 8.6L690.1 9L689.7 277.3ZM567.3 221L567.4 220L566.9 219L564.3 217L559.7 215.3L554.7 214.5L549.7 214.8L544.7 216L541 218L539.4 220L539.4 221L540.7 221.2L567.3 221ZM560.2 234L565 232L566.7 230.6L567.5 229L566.7 228.2L565.7 228.1L540.7 228.1L539.7 228.3L539.3 229L539.7 230.1L541.8 232L546.7 234L553.7 234.9L560.2 234Z"/>
<path fill="#453886" fill-rule="evenodd" d="M689.7 277.3L416.7 277.3L416.3 9L416.7 8.6L689.7 8.6L690.1 9L689.7 277.3ZM567.9 222L568.9 221L569 220L566.2 217L561.7 214.9L555.7 213.8L549.7 213.9L544.7 215.1L540.6 217L537.8 220L537.9 221L539.7 222.1L567.9 222ZM559.7 235L563.7 233.7L566.8 232L568.7 230L568.6 228L566.7 227.4L539.7 227.4L538.2 228L537.8 229L538.1 230L540 232L545.7 234.6L552.7 235.7L559.7 235Z"/>
<path fill="#453b8b" fill-rule="evenodd" d="M689.7 277.3L416.7 277.3L416.4 9L689.7 8.7L689.7 277.3ZM569.3 222L570.3 221L570.4 220L567.7 216.8L562.7 214.4L555.7 213L549.7 213.2L543.7 214.5L538.9 217L536.4 220L536.5 221L537.5 222L539.7 222.5L567.7 222.5L569.3 222ZM558.7 236L563.7 234.6L567.7 232.5L570.2 230L570 228L567.7 226.8L539.7 226.8L537.7 227.4L536.4 229L537.3 231L538.7 232.3L544.7 235.2L551.7 236.4L558.7 236Z"/>
<path fill="#463e8e" fill-rule="evenodd" d="M689.7 277.3L416.7 277.3L416.4 9L689.7 8.7L689.7 277.3ZM567.7 223L570.7 222L571.6 221L571.7 220L570.6 218L568.1 216L564.7 214.3L556.7 212.4L549.7 212.4L542.8 214L537.3 217L535.1 220L535.2 221L536.1 222L538.7 223L567.7 223ZM556.9 237L562.7 235.8L567.7 233.6L570.9 231L571.7 229L571.4 228L569.9 227L567.7 226.5L538.7 226.5L535.4 228L535.1 229L535.9 231L538.1 233L541.8 235L548.7 236.9L556.9 237Z"/>
<path fill="#464192" fill-rule="evenodd" d="M689.7 277.3L416.7 277.3L416.4 9L689.7 8.7L689.7 277.3ZM569.5 223L572 222L572.9 221L572.7 219L571 217L564.7 213.4L556.7 211.7L549.7 211.7L542.7 213.2L536.7 216.3L534.8 218L533.8 220L533.9 221L534.8 222L538.7 223.2L569.5 223ZM561.3 237L566.7 235.1L570.3 233L572.8 230L572.6 228L571.2 227L567.7 226.1L538.7 226.1L535.6 227L534.2 228L533.8 229L534.5 231L536.5 233L539.8 235L543.7 236.5L552.7 237.9L561.3 237Z"/>
<path fill="#474596" fill-rule="evenodd" d="M689.7 277.3L416.7 277.3L416.4 9L689.7 8.7L689.7 277.3ZM570.8 223L573.2 222L574.3 220L573.3 218L571.7 216.4L565.7 213L556.7 210.9L548.7 211.1L541 213L535.6 216L533.5 218L532.5 220L533.6 222L538.7 223.5L567.7 223.5L570.8 223ZM560.1 238L565.7 236.4L570.7 233.8L573.6 231L574.3 229L573.9 228L572.5 227L567.7 225.9L538.7 225.9L534.3 227L532.9 228L532.5 229L533.2 231L535.1 233L538.7 235.4L542.7 237L551.7 238.6L560.1 238Z"/>
<path fill="#47489a" fill-rule="evenodd" d="M689.7 277.2L416.7 277.2L416.4 9L689.7 8.7L689.7 277.2ZM572.1 223L574.4 222L575.5 220L574.6 218L572.7 216L565.7 212.1L556.7 210.2L548.7 210.4L540.7 212.3L534.1 216L532.2 218L531.3 220L532.4 222L534.7 223L538.7 223.7L567.7 223.7L572.1 223ZM558.2 239L564.7 237.6L570.7 234.8L574.9 231L575.5 229L575.1 228L572.7 226.7L567.7 225.7L538.7 225.7L533.1 227L531.7 228L531.3 229L531.9 231L533.7 233L536.7 235.2L540.7 237.1L548.7 239L558.2 239Z"/>
<path fill="#474c9d" fill-rule="evenodd" d="M689.7 277.2L416.7 277.2L416.4 9L689.7 8.7L689.7 277.2ZM573.4 223L575.6 222L576.7 220L575.9 218L573.7 215.7L566.7 211.7L561.7 210.3L556.7 209.5L547.7 209.8L539.7 211.9L535.7 213.8L532.7 216L530.9 218L530.1 220L531.2 222L533.4 223L538.7 224L567.7 224L573.4 223ZM562.3 239L568.4 237L573.4 234L576.1 231L576.7 229L576.3 228L573.7 226.6L568.7 225.6L538.7 225.5L531.9 227L530.1 229L530.7 231L533.4 234L536.7 236.1L541.7 238.2L551.7 240L556.7 239.9L562.3 239Z"/>
<path fill="#47509f" fill-rule="evenodd" d="M689.7 277.2L416.7 277.2L416.4 9L689.7 8.7L689.7 277.2ZM569.5 224L574.6 223L576.8 222L577.9 220L576.4 217L572.9 214L568.7 211.7L563.7 210L557.7 208.9L548.7 209L539.7 211.1L532.5 215L529.7 218L528.9 220L530 222L532.2 223L538.7 224.3L569.5 224ZM560.9 240L567.7 238.1L573.5 235L577.4 231L577.9 229L577.4 228L576.1 227L573 226L568.7 225.4L538.7 225.3L530.7 227L528.9 229L529.4 231L532 234L535.7 236.5L540.7 238.7L550.7 240.6L560.9 240Z"/>
<path fill="#4855a2" fill-rule="evenodd" d="M689.7 277.2L416.7 277.2L416.4 9L689.7 8.7L689.7 277.2ZM570.8 224L575.7 223L577.9 222L579.1 220L577.7 217L574.4 214L569.7 211.3L563.7 209.3L557.7 208.3L547.7 208.4L538.7 210.6L534.7 212.5L531.1 215L528.4 218L527.7 220L528.9 222L531.1 223L538.7 224.7L567.7 224.7L570.8 224ZM559 241L566.7 239.3L573.6 236L578 232L579 230L578.6 228L577.3 227L574.2 226L568.7 225.2L538.7 225.1L532.6 226L529.5 227L527.8 229L528.2 231L530.6 234L534.7 236.9L538.7 238.8L548.7 241.1L559 241Z"/>
<path fill="#4859a5" fill-rule="evenodd" d="M689.7 277.2L416.7 277.2L416.4 9L689.7 8.7L689.7 277.2ZM555.1 242L561.7 241.3L568.7 239.3L574.7 236.3L578.4 233L580.2 230L579.7 228L575.4 226L568.7 225L576.9 223L579.1 222L580.2 220L579.6 218L578.1 216L573.7 212.5L568.5 210L561.7 208.1L554.7 207.4L547.7 207.7L540.7 209.2L534.7 211.6L529.7 215L527.2 218L526.6 220L526.8 221L529.9 223L538.2 225L531.4 226L527.1 228L526.6 230L528.7 233.4L533.3 237L539.7 239.9L546.7 241.6L555.1 242Z"/>
<path fill="#495faa" fill-rule="evenodd" d="M689.7 277.2L416.7 277.2L416.4 9L689.7 8.7L689.7 277.2ZM561.7 242L567.7 240.5L573.7 237.9L577.8 235L581 231L581.4 229L579.5 227L576.6 226L570.1 225L578 223L581.2 221L581.2 219L580.2 217L576 213L570.6 210L563.7 207.8L556.7 206.8L549.7 206.8L542.7 207.9L535.7 210.2L530.7 213.1L526.6 217L525.4 220L526.6 222L536.7 225L530.2 226L525.9 228L525.5 230L526.4 232L530.7 236.3L536.7 239.6L544.7 241.9L552.7 242.7L561.7 242Z"/>
<path fill="#4966b0" fill-rule="evenodd" d="M689.7 277.2L416.7 277.2L416.4 9L689.7 8.7L689.7 277.2ZM559.8 243L566.7 241.6L573.3 239L578 236L581.7 232L582.5 229L580.7 227L577.7 226L571.4 225L579.2 223L582.3 221L582.6 220L582 218L577.7 213.2L572.5 210L565.7 207.5L558.7 206.3L550.7 206.1L543.7 206.9L536.6 209L530.7 212L526.1 216L524.8 218L524.2 220L525.4 222L535.4 225L529.1 226L524.8 228L524.3 229L524.6 231L525.8 233L528.8 236L534.7 239.6L542.7 242.2L550.7 243.3L559.8 243Z"/>
<path fill="#4a6db5" fill-rule="evenodd" d="M689.7 277.2L416.7 277.2L416.4 9L689.7 8.7L689.7 277.2ZM556.7 244L564.7 242.9L571.7 240.6L578.2 237L582.3 233L583.7 230L583.2 228L578.9 226L572.6 225L580.3 223L583.5 221L583.8 220L583.3 218L580.1 214L574.7 210.2L568.7 207.7L560.7 205.8L552.7 205.3L544.7 206L537.1 208L530.7 211L525.7 215L523.5 218L523 220L523.3 221L526.5 223L534.2 225L527.9 226L523.6 228L523.1 229L523.4 231L526.3 235L531.8 239L539.7 242.2L547.7 243.8L556.7 244Z"/>
<path fill="#4a76bb" fill-rule="evenodd" d="M689.7 277.2L416.7 277.2L416.4 9L689.7 8.7L689.7 277.2ZM562.7 244L569.7 242.2L575.7 239.6L580.8 236L584.2 232L584.9 229L583 227L573.8 225L581.4 223L584.6 221L584.8 219L584 217L581.5 214L578.7 211.7L572.7 208.3L564.7 205.8L556.7 204.7L548.7 204.8L540.7 206.1L533.7 208.5L527.7 212L523.5 216L522.3 218L521.9 220L523.1 222L533 225L523.8 227L521.9 229L522.1 231L523.2 233L528.5 238L535.7 241.7L544.7 244.1L553.7 244.8L562.7 244Z"/>
<path fill="#4a7ec0" fill-rule="evenodd" d="M689.7 277.2L416.7 277.2L416.5 9L689.7 8.8L689.7 277.2ZM561.1 245L568.7 243.4L575.7 240.5L581.7 236.5L585.5 232L586.1 229L584.1 227L575 225L582.6 223L585.8 221L586.1 219L585.2 217L582.9 214L579.7 211.3L573.7 207.9L565.7 205.2L557.7 204L548.7 204.1L540.7 205.3L532.7 208.1L526.7 211.6L522.2 216L521.1 218L520.6 220L522 222L531.8 225L522.7 227L520.7 229L520.9 231L521.9 233L527 238L533.7 241.8L542.7 244.5L551.7 245.5L561.1 245Z"/>
<path fill="#4a87c6" fill-rule="evenodd" d="M689.7 277.2L416.7 277.2L416.5 9L689.7 8.8L689.7 277.2ZM558.9 246L567.7 244.4L575.7 241.5L581.7 237.8L586.2 233L587.4 230L586.7 228L582.2 226L576.2 225L583.7 223L587 221L587.3 219L586.5 217L582.2 212L575.9 208L568.7 205.2L559.7 203.5L550.7 203.2L541.7 204.3L533.7 206.7L526.7 210.5L521.7 215L519.8 218L519.4 220L519.8 221L523.1 223L530.6 225L521.5 227L519.5 229L519.6 231L520.6 233L524.7 237.4L531.7 241.8L539.7 244.6L549.7 246.1L558.9 246Z"/>
<path fill="#4c91ce" fill-rule="evenodd" d="M689.7 277.1L416.7 277.1L416.5 9L689.7 8.8L689.7 277.1ZM554.8 247L563.7 246.1L572.7 243.7L580.2 240L586 235L588.5 231L588.6 229L587.9 228L583.4 226L577.3 225L584.9 223L588.3 221L588.6 220L588.3 218L584.7 213L578.7 208.5L571.7 205.3L562.7 203.1L553.7 202.4L544.7 203L535.7 205.1L527.7 208.7L522.1 213L518.5 218L518.2 220L518.5 221L521.9 223L529.5 225L523.4 226L518.9 228L518.2 229L518.3 231L521.7 236L527.7 240.7L535.7 244.3L544.7 246.4L554.8 247Z"/>
<path fill="#4d9cd5" fill-rule="evenodd" d="M689.7 277.1L416.7 277.1L416.5 9L689.7 8.8L689.7 277.1ZM563.3 247L571.7 245L579.7 241.4L585.6 237L589.4 232L589.8 229L587.6 227L578.5 225L588.4 222L589.9 220L589.7 218L587.9 215L582.7 209.9L575.7 206L567.7 203.3L558.7 201.8L548.7 201.8L538.7 203.4L530.7 206.2L524 210L518.9 215L516.9 219L517.3 221L520.8 223L528.3 225L519.2 227L517 229L517 231L518.6 234L521.2 237L524.7 239.9L532.7 244.1L542.7 246.9L552.7 247.8L563.3 247Z"/>
<path fill="#52a6db" fill-rule="evenodd" d="M689.7 277.1L416.7 277.1L416.5 9L689.7 8.8L689.7 277.1ZM562.1 248L571.7 245.9L579.7 242.5L586.1 238L590.3 233L591.3 230L590.5 228L585.7 226L579.6 225L589.6 222L591.2 220L591 218L589.4 215L583.7 209.4L576.7 205.4L567.7 202.4L557.7 200.9L547.7 201.1L538.7 202.5L529.7 205.6L522.3 210L517.4 215L515.5 219L516 221L519.6 223L527.2 225L517.9 227L515.7 229L515.7 231L517.1 234L519.6 237L523.1 240L530.7 244.2L540.7 247.3L551.7 248.6L562.1 248Z"/>
<path fill="#58b0df" fill-rule="evenodd" d="M689.7 277.1L416.7 277.1L416.5 9L689.7 8.8L689.7 277.1ZM560.9 249L570.7 247.1L579.7 243.6L586.7 239L591.2 234L592.7 230L591.8 228L586.8 226L580.7 225L590.9 222L592.6 220L592.4 218L590.9 215L585.7 209.6L578 205L568.7 201.8L558.7 200.2L548.7 200.1L538.7 201.6L529.7 204.6L521.9 209L516.6 214L514.4 218L514.2 220L514.7 221L518.4 223L526.1 225L516.7 227L514.3 229L514.2 231L515.6 234L521.4 240L528.7 244.4L538.7 247.8L549.7 249.3L560.9 249Z"/>
<path fill="#5fbbe3" fill-rule="evenodd" d="M689.7 277.1L416.7 277.1L416.5 9L689.7 8.8L689.7 277.1ZM559.7 250L569.7 248.3L578.7 245.2L586.7 240.4L592 235L594 231L593.9 229L593.1 228L588 226L581.8 225L592.2 222L594 220L593.9 218L592.4 215L587.7 209.8L579.7 204.7L570.7 201.4L560.7 199.5L549.7 199.2L539.7 200.5L529.7 203.5L521.7 207.8L515.9 213L512.9 218L512.8 220L513.3 221L517.2 223L525 225L515.4 227L512.9 229L512.8 231L514.1 234L519.6 240L527.7 245L537.7 248.5L548.7 250.1L559.7 250Z"/>
<path fill="#6ac2e0" fill-rule="evenodd" d="M689.7 277.1L416.7 277.1L416.5 9L689.7 8.8L689.7 277.1ZM558.7 251L568.7 249.5L578.7 246.3L586.7 241.9L592.9 236L595.5 231L595.4 229L594.5 228L589.3 226L583 225L593.6 222L595.5 220L595.5 218L594.1 215L589.7 209.9L582.7 205L573.7 201.2L562.7 198.8L551.7 198.3L540.7 199.4L530.7 202.1L521.7 206.4L515 212L511.7 217L511.2 219L511.8 221L515.9 223L523.8 225L514.1 227L511.4 229L511.2 231L512.5 234L517.7 240L525.7 245.2L535.7 248.9L546.7 250.9L558.7 251Z"/>
<path fill="#76cadc" fill-rule="evenodd" d="M689.7 277.1L416.7 277.1L416.5 9L689.7 8.8L689.7 277.1ZM558.2 252L568.7 250.6L578.7 247.5L587.2 243L593.9 237L596.9 232L596.9 229L594.1 227L584.1 225L595 222L597.1 220L597.1 218L596.3 216L591.7 210L583.7 204.3L574.7 200.5L564.7 198.2L552.7 197.3L540.7 198.4L530.7 200.9L521.7 205.1L514.1 211L510.5 216L509.7 218L509.7 220L511.8 222L522.7 225L512.7 227L509.9 229L509.6 231L510.8 234L515.7 239.9L523.7 245.4L533.7 249.4L545.7 251.8L558.2 252Z"/>
<path fill="#81d0d6" fill-rule="evenodd" d="M689.7 277.1L416.7 277.1L416.5 9L689.7 8.8L689.7 277.1ZM558.7 253L569.7 251.4L580.7 247.9L589.4 243L595.8 237L598.6 232L598.5 229L595.5 227L585.3 225L596.5 222L598.7 220L598.8 218L597.5 215L592.6 209L584.7 203.5L575.7 199.6L564.7 197.1L551.7 196.3L539.7 197.5L528.7 200.5L519.5 205L512.2 211L508.7 216L508 218L508.1 220L510.3 222L521.5 225L511.3 227L508.3 229L507.9 231L509 234L511.7 237.8L514.7 240.9L522.7 246.3L533.7 250.6L545.7 252.8L558.7 253Z"/>
<path fill="#88d0cb" fill-rule="evenodd" d="M689.7 277.1L416.7 277.1L416.5 9L689.7 8.8L689.7 277.1ZM560.1 254L571.7 252.1L582.7 248.4L591.7 243L597.8 237L600.5 232L600.3 229L597.1 227L586.4 225L598.1 222L600.5 220L600.6 218L599.5 215L596.7 211.1L593.7 208L585.7 202.5L575.7 198.4L563.7 195.9L550.7 195.3L538.7 196.6L526.7 199.9L517 205L510.1 211L506.8 216L506.2 218L506.3 220L508.7 222L520.4 225L509.7 227L507.6 228L506.1 230L506.7 233L508.3 236L513.7 241.9L522.7 247.7L533.7 251.8L546.7 254L560.1 254Z"/>
<path fill="#8bcfc0" fill-rule="evenodd" d="M689.7 277.1L416.7 277.1L416.5 9L689.7 8.8L689.7 277.1ZM562.3 255L574.7 252.6L585.7 248.5L594.2 243L597.7 239.7L600.6 236L602.7 231L602.1 229L601 228L594.5 226L587.6 225L599.8 222L602.4 220L602.6 218L601 214L598 210L593.7 206L584.7 200.5L573.7 196.6L561.7 194.5L548.7 194.2L535.7 196L523.7 199.7L514.7 204.8L507.9 211L504.8 216L504.2 218L504.4 220L507 222L519.2 225L508.1 227L505.8 228L504.2 230L504.6 233L506.2 236L509.3 240L512.7 243.1L517.7 246.6L522.7 249.2L534.7 253.3L548.7 255.4L562.3 255Z"/>
<path fill="#8fcdb5" fill-rule="evenodd" d="M689.7 277.1L416.7 277.1L416.5 9L689.7 8.8L689.7 277.1ZM565.1 256L577.7 253.2L588.7 248.6L596.9 243L602.9 236L604.7 232L604.7 230L604.2 229L600.4 227L588.8 225L601.5 222L603.5 221L604.8 219L604.3 216L602 212L598.6 208L594.7 204.6L585.7 199.3L573.7 195.2L560.7 193.2L546.7 193.1L533.7 195.1L521.7 199L512.7 204.2L505.5 211L502.5 216L502 218L502.3 220L505.3 222L518 225L506.4 227L503.9 228L502.1 230L502.4 233L504.5 237L507.8 241L512.4 245L517.7 248.4L523.7 251.3L536.7 255.2L550.7 256.8L565.1 256Z"/>
<path fill="#92ccaa" fill-rule="evenodd" d="M689.7 277.1L416.7 277.1L416.6 9L689.7 8.9L689.7 277.1ZM560.4 258L574.7 255.7L586.7 251.5L596.7 245.6L600.9 242L604.3 238L607.2 232L607.1 230L606.4 229L602.2 227L590.1 225L603.5 222L605.6 221L607.2 219L607.1 217L605.3 213L602.4 209L598.7 205.4L589.7 199.4L577.7 194.8L564.7 192.2L549.7 191.5L535.7 193.2L522.7 196.9L512.6 202L508.5 205L504.4 209L500 216L499.5 218L500 220L503.3 222L516.7 225L504.6 227L501.9 228L499.7 230L499.6 232L501.3 236L504.1 240L508.1 244L517.7 250.4L524.7 253.4L530.7 255.3L544.7 257.9L560.4 258Z"/>
<path fill="#95cca1" fill-rule="evenodd" d="M689.7 277L416.7 277L416.6 9L689.7 8.9L689.7 277ZM567 259L580.7 255.9L592.7 250.7L602.1 244L605.8 240L608.5 236L610 232L609.8 230L608.9 229L604.2 227L591.3 225L605.6 222L608.1 221L609.9 219L609.7 216L607 211L603.7 207L598.7 202.5L593.7 199.3L587.7 196.4L574.7 192.3L560.7 190.2L545.7 190.2L531.7 192.4L518.7 196.6L508.7 202.1L504 206L500.5 210L497.1 216L496.7 218L497.4 220L501.2 222L515.5 225L502.6 227L499.6 228L497 230L497 233L499.5 238L503.6 243L508.3 247L513.7 250.5L520.7 253.9L527.7 256.4L535.7 258.3L550.7 259.9L558.7 259.8L567 259Z"/>
<path fill="#98cc98" fill-rule="evenodd" d="M689.7 277L416.7 277L416.6 9L689.7 8.9L689.7 277ZM554.2 262L569.7 260.7L583.7 257.2L590.7 254.4L596.7 251.2L601.7 247.8L606.1 244L609.5 240L612 236L613.4 232L612.9 230L609.9 228L606.4 227L592.6 225L608 222L612.4 220L613.4 218L612.8 215L610.6 211L607.6 207L599.5 200L593.7 196.8L586.7 193.8L571.7 189.7L556.7 188.1L541.7 188.7L526.7 191.6L518.7 194.3L512.7 197L507.3 200L502.7 203.5L498.4 208L495.5 212L493.7 216L493.7 219L496 221L498.8 222L514.2 225L500.4 227L496.9 228L493.9 230L493.4 232L494.3 235L498.9 242L503.7 246.7L508.7 250.4L514.7 253.7L521.7 256.7L536.7 260.6L545.7 261.7L554.2 262Z"/>
<path fill="#9bcc8f" fill-rule="evenodd" d="M689.7 277L416.7 277L416.6 9L689.7 8.9L689.7 277ZM564.4 264L579.7 261.2L587.7 258.7L594.7 255.7L600.7 252.4L605.7 248.9L610 245L614.1 240L617.2 234L617.6 232L616.8 230L612.9 228L608.8 227L594 225L610.7 222L614.1 221L617.1 219L617.4 216L615.2 211L611.5 206L606.3 201L600.7 197.3L594.7 194.2L580.7 189.3L572.7 187.6L563.7 186.3L546.7 186.1L530.7 188.2L515.7 192.7L507.7 196.4L501.8 200L494.5 207L491.1 212L489.4 216L489.3 218L490.7 220L496.1 222L512.8 225L504.1 226L493.9 228L491.4 229L489.4 231L489.6 234L492 239L495.9 244L500.7 248.6L506.7 252.8L513.7 256.5L520.7 259.3L528.7 261.7L537.7 263.4L546.7 264.4L555.7 264.5L564.4 264Z"/>
<path fill="#9ecd88" fill-rule="evenodd" d="M689.7 277L416.7 277L416.6 9L689.7 8.9L689.7 277ZM558 268L566.7 267.3L575.7 265.9L584.7 263.7L591.7 261.4L598.7 258.3L605.7 254.3L611.6 250L616.7 245L620.4 240L622.8 235L623.2 232L621.9 230L616.7 228L611.7 227L595.4 225L613.9 222L618.2 221L622.3 219L623.3 217L622.3 213L618.8 207L614.4 202L609.7 198.2L602.7 194.1L594.7 190.5L586.7 187.8L575 185L553.7 183.8L531.8 185L520.7 187.6L512.7 190.3L504.7 193.8L496.7 198.5L492.4 202L488 207L485 212L483.6 216L483.7 218L484.5 219L488.6 221L492.9 222L511.4 225L490.1 228L486.9 229L484 231L483.7 234L485.3 238L488.5 243L492 247L497.8 252L504.7 256.5L512.7 260.4L520.7 263.3L529.7 265.7L539.7 267.3L548.7 268L558 268Z"/>
<path fill="#a2cf82" fill-rule="evenodd" d="M689.7 277L416.7 277L416.6 9L689.7 8.9L689.7 277ZM569.6 273L578.7 271.6L587.7 269.4L596.7 266.4L603.7 263.4L610.7 259.7L617.5 255L623.2 250L627.5 245L630.2 241L632.5 236L632.8 233L631.5 231L626.4 229L621.5 228L596.9 225L601.2 224L623.7 221L627.8 220L632 218L632.7 217L632.8 215L631.5 211L628 205L623.8 200L609.7 191.5L600.7 187.6L593.2 185L569.7 182.3L547.7 181.8L527.7 183.2L511.7 185.6L501.7 189.4L491.7 194.4L483 200L479.6 204L476.3 209L474.5 213L473.9 216L474.9 218L479 220L483.1 221L505.6 224L509.9 225L485.2 228L477.2 230L474.4 232L473.9 234L474.3 236L477.9 243L482.7 249.1L489.7 255.3L497.7 260.6L505.7 264.6L515.7 268.4L524.7 270.8L534.7 272.7L546.7 273.8L558.7 273.9L569.6 273Z"/>
<path fill="#a6d17b" fill-rule="evenodd" d="M689.7 277L617.4 277L625.7 272.9L632.7 268.6L639.7 263.5L645.7 258L650.9 252L654.9 246L658.2 239L658.8 235L657.4 233L655.4 232L645.9 230L598.5 225L604.7 223.8L641.3 220L648.5 219L656.4 217L658.6 215L658.6 212L656.8 207L653.5 201L652.8 200L640.2 194L619.1 185L578.7 180.5L553.7 179.4L528.7 180.5L487.7 185L466.6 194L454 200L453.3 201L450 207L448.2 212L448.2 215L450.4 217L458.3 219L465.5 220L502.7 223.9L508.3 225L460.9 230L451.4 232L449.4 233L448 235L448.7 239L451.9 246L455.9 252L461.1 258L466.7 263.1L473.7 268.4L480.7 272.6L489.4 277L416.7 277L416.6 9L689.7 8.9L689.7 277Z"/>
<path fill="#aad274" fill-rule="evenodd" d="M689.7 184.5L644.7 182.8L577.7 177.6L553.7 176.7L528.7 177.6L461.7 182.8L416.7 184.5L416.6 9L689.7 8.9L689.7 184.5ZM431.7 229L416.7 229.5L416.7 220L469.7 221.6L497.7 223.6L506.6 225L472.7 227.6L431.7 229ZM689.7 229.4L634.7 227.7L600.2 225L608.7 223.6L637.7 221.6L689.7 220L689.7 229.4Z"/>
<path fill="#aed46e" fill-rule="evenodd" d="M689.7 179.9L648.7 178.6L578.7 174.4L553.7 173.7L527.7 174.4L457.7 178.6L416.7 179.9L416.6 9L689.7 8.9L689.7 179.9ZM470.7 227L416.7 227.9L416.7 221.4L474.7 222.4L496.7 223.8L504.8 225L470.7 227ZM689.7 227.9L641.7 227.2L602 225L610.7 223.7L631.7 222.5L689.7 221.4L689.7 227.9Z"/>
<path fill="#b6d667" fill-rule="evenodd" d="M689.7 175.3L651.7 174.3L580.7 170.9L553.7 170.3L526.7 170.9L454.7 174.3L416.7 175.3L416.6 9L689.7 8.9L689.7 175.3ZM441.7 227L416.7 227.2L416.7 222.2L471.7 222.8L492.7 223.7L502.9 225L475.7 226.5L441.7 227ZM689.7 227.2L634.7 226.6L603.9 225L613.7 223.7L635.7 222.8L689.7 222.2L689.7 227.2Z"/>
<path fill="#bed960" fill-rule="evenodd" d="M689.7 170.6L657 170L586.7 165.8L553.7 164.9L520.7 165.8L449.8 170L416.7 170.6L416.6 9L689.7 8.9L689.7 170.6ZM478.7 226L416.7 226.8L416.7 222.6L478.7 223.3L493.7 224L500.8 225L478.7 226ZM689.7 226.8L637.7 226.3L606 225L613.1 224L627.7 223.3L689.7 222.6L689.7 226.8Z"/>
<path fill="#c6db5a" fill-rule="evenodd" d="M689.7 163L651.7 162L583.7 159.1L553.7 158.6L522.7 159.1L454.7 162L416.7 163L416.6 9L689.7 8.9L689.7 163ZM466.7 226L416.7 226.4L416.7 223.1L476.7 223.5L490 224L498.4 225L466.7 226ZM689.7 226.4L630.7 225.9L608.4 225L616.8 224L629.7 223.5L689.7 223.1L689.7 226.4Z"/>
<path fill="#d0de53" fill-rule="evenodd" d="M689.7 154.8L553.7 151.8L416.7 154.8L416.6 9L689.7 8.9L689.7 154.8ZM427.7 226L416.7 226L416.7 223.3L475.7 223.7L495.6 225L473.7 225.7L427.7 226ZM689.7 226L634.7 225.8L611.2 225L631.7 223.7L689.7 223.3L689.7 226Z"/>
<path fill="#dbe14c" fill-rule="evenodd" d="M689.7 145.8L553.7 143.7L416.7 145.8L416.7 9L689.7 9L689.7 145.8ZM491.7 225L416.7 225.8L416.7 225L416.7 223.5L473.7 223.9L492.3 225L491.7 225ZM689.7 225.8L637.7 225.6L614.5 225L632.7 223.9L689.7 223.5L689.7 225.8Z"/>
<path fill="#e6e446" fill-rule="evenodd" d="M689.7 135.9L553.7 134.7L416.7 135.9L416.7 9L689.7 9L689.7 135.9ZM487.7 225L416.7 225.7L416.7 225L416.7 223.8L464.7 224L488.3 225L487.7 225ZM689.7 225.7L618.5 225L642.7 224L689.7 223.8L689.7 225.7Z"/>
<path fill="#ede242" fill-rule="evenodd" d="M689.7 122.4L553.7 121.6L416.7 122.4L416.7 9L689.7 9L689.7 122.4ZM482.7 225L416.7 225.5L416.7 225L416.7 224L482.7 225ZM689.7 225.5L624.1 225L689.7 224L689.7 225.5Z"/>
<path fill="#f3e13e" fill-rule="evenodd" d="M689.7 103.7L416.7 103.7L416.7 9L689.7 9L689.7 103.7ZM473.7 225L416.7 225L416.7 224.4L473.7 225ZM689.7 225.3L633 225L689.7 224.4L689.7 225.3Z"/>
<path fill="#f7dc3a" fill-rule="evenodd" d="M689.7 90L416.7 90L416.7 9L689.7 9L689.7 90ZM451.7 225L416.7 225L451.7 225ZM689.7 225.1L654.9 225L689.7 225.1Z"/>
<path fill="#f9d537" fill-rule="evenodd" d="M689.7 77.5L416.7 77.5L416.7 9L689.7 9L689.7 77.5Z"/>
<path fill="#fbce34" fill-rule="evenodd" d="M689.7 65L416.7 65L416.7 9L689.7 9L689.7 65Z"/>
</g>
</g>
<!-- panel c -->
<g clip-path="url(#cc)">
<rect x="740.4" y="10.0" width="273.6" height="265.6" fill="#422c72"/>
<path fill="#422d74" fill-rule="evenodd" d="M1015.4 277L738.4 277L738.4 232L741.4 229L742.4 229L747.4 224L748.4 224L756.4 216L757.4 216L784.4 189L784.4 188L789.4 183L789.4 182L793.4 178L793.4 177L796.4 174L796.4 173L798.4 171L799.4 171L800.4 170L802.4 170L803.4 169L805.4 169L806.4 168L808.4 168L809.4 167L811.4 167L812.4 166L813.4 166L814.4 165L816.4 165L817.4 164L819.4 164L820.4 163L822.4 163L823.4 162L825.4 162L826.4 161L828.4 161L829.4 160L831.4 160L832.4 159L834.4 159L837.4 157L839.4 157L840.4 156L842.4 156L843.4 155L845.4 155L846.4 154L848.4 154L849.4 153L851.4 153L852.4 152L854.4 152L855.4 151L857.4 151L860.4 149L862.4 149L863.4 148L865.4 148L866.4 147L868.4 147L869.4 146L871.4 146L872.4 145L874.4 145L875.4 144L877.4 144L878.4 143L876.4 143L875.4 142L873.4 142L872.4 141L870.4 141L869.4 140L867.4 140L866.4 139L864.4 139L861.4 137L859.4 137L858.4 136L856.4 136L855.4 135L853.4 135L852.4 134L850.4 134L849.4 133L847.4 133L846.4 132L844.4 132L843.4 131L841.4 131L838.4 129L836.4 129L835.4 128L833.4 128L832.4 127L830.4 127L829.4 126L827.4 126L826.4 125L824.4 125L823.4 124L821.4 124L818.4 122L816.4 122L815.4 121L813.4 121L812.4 120L810.4 120L809.4 119L807.4 119L806.4 118L804.4 118L803.4 117L801.4 117L800.4 116L798.4 116L797.4 115L797.4 114L795.4 112L795.4 111L791.4 107L791.4 106L786.4 101L786.4 100L778.4 92L778.4 91L765.4 78L764.4 78L753.4 67L752.4 67L746.4 61L745.4 61L739.4 55L738.4 55L738.4 8L1015.4 8L1015.4 59L1012.4 62L1011.4 62L1004.4 69L1003.4 69L989.4 83L988.4 83L985.4 86L985.4 87L973.4 99L973.4 100L968.4 105L968.4 106L964.4 110L964.4 111L961.4 114L961.4 115L960.4 116L958.4 116L957.4 117L955.4 117L954.4 118L952.4 118L951.4 119L949.4 119L948.4 120L946.4 120L943.4 122L941.4 122L940.4 123L938.4 123L937.4 124L935.4 124L934.4 125L932.4 125L931.4 126L929.4 126L928.4 127L926.4 127L925.4 128L923.4 128L920.4 130L918.4 130L917.4 131L915.4 131L914.4 132L912.4 132L911.4 133L909.4 133L908.4 134L906.4 134L905.4 135L903.4 135L900.4 137L898.4 137L897.4 138L895.4 138L894.4 139L892.4 139L891.4 140L889.4 140L888.4 141L886.4 141L885.4 142L883.4 142L882.4 143L880.4 143L883.4 144L884.4 145L886.4 145L887.4 146L889.4 146L890.4 147L892.4 147L893.4 148L895.4 148L896.4 149L898.4 149L899.4 150L901.4 150L902.4 151L904.4 151L907.4 153L909.4 153L910.4 154L912.4 154L913.4 155L915.4 155L916.4 156L918.4 156L919.4 157L921.4 157L922.4 158L924.4 158L925.4 159L927.4 159L930.4 161L932.4 161L933.4 162L935.4 162L936.4 163L938.4 163L939.4 164L941.4 164L942.4 165L944.4 165L945.4 166L947.4 166L950.4 168L952.4 168L953.4 169L955.4 169L956.4 170L958.4 170L959.4 171L960.4 171L962.4 173L962.4 174L966.4 178L966.4 179L970.4 183L970.4 184L976.4 190L976.4 191L999.4 214L1000.4 214L1008.4 222L1009.4 222L1015.4 228L1015.4 277Z"/>
<path fill="#432f78" fill-rule="evenodd" d="M1015.4 277L738.4 277L738.4 236.7L761.4 214.3L776.4 198.8L790.9 182L798.4 171.9L851.4 153.2L852.4 152.5L854.4 152.2L855.4 151.4L857.4 151.2L858.4 150.4L868.4 147.1L869.4 146.3L871.4 146.1L872.4 145.2L874.4 145.1L875.4 144.2L877.4 144.1L878.4 143L876.4 142.8L875.4 141.9L873.4 141.7L872.4 140.9L862.4 137.7L861.4 136.8L859.4 136.6L858.4 135.8L856.4 135.5L855.4 134.8L853.4 134.4L798.4 114.5L788 101L774.4 85.7L738.4 49.9L738.4 8L1015.4 8L1015.4 54.9L995.4 74.5L980.6 90L971.8 100L960.4 114.8L908.4 133.4L906.4 133.8L905.4 134.5L903.4 134.8L902.4 135.6L900.4 135.9L891.4 139.6L889.4 139.9L888.4 140.7L886.4 140.9L885.4 141.8L883.4 141.9L882.4 142.9L880.4 143L883.4 144.1L884.4 145.1L886.4 145.2L887.4 146.1L889.4 146.3L890.4 147.1L892.4 147.4L893.4 148.2L906.4 152.4L907.4 153.2L909.4 153.5L927.4 160.3L960.4 171.6L968.9 183L982.4 198.6L1015.4 231.7L1015.4 277Z"/>
<path fill="#44327c" fill-rule="evenodd" d="M1015.4 277L738.4 277L738.4 248L753 229L784.4 191.3L798.4 172.7L857.4 151.4L872.4 145.5L874.4 145.2L875.4 144.3L877.4 144.1L878.5 143L876.4 142.7L875.4 141.8L873.4 141.5L861.4 136.7L798.4 114L785.4 96.6L752.5 57L738.4 38.5L738.4 8L1015.4 8L1015.4 45.6L974.4 95.6L960.4 114.2L886.4 140.8L885.4 141.6L883.4 141.8L882.4 142.8L880.3 143L884.4 145.2L886.4 145.4L887.4 146.2L889.4 146.6L960.4 172.4L975.4 192.3L1015.4 241L1015.4 277Z"/>
<path fill="#443581" fill-rule="evenodd" d="M1015.4 277L739.1 277L741.9 267L746 256L751.1 245L757 234L769.8 214L799 173L874.4 145.3L875.4 144.5L877.4 144.2L878.5 143L799.6 114L798.4 113L768.7 71L756.1 51L750.3 40L745.4 29L741.7 19L738.7 8L1015.4 8L1015.4 24.3L1006.7 44L999.9 56L992.3 68L960.4 113.3L883.4 141.8L882.4 142.6L880.3 143L884.4 145.3L886.4 145.6L960.4 173.3L991.9 218L999.6 230L1005.8 241L1011.2 252L1015.4 262.3L1015.4 277Z"/>
<path fill="#453886" fill-rule="evenodd" d="M1003.4 277L754.8 277L755.8 266L758 254L761.2 243L765.8 231L771 220L777.6 208L799 174L877.4 144.2L878.5 143L799.4 113L777.3 78L770.7 66L765.6 55L761 43L757.7 31L755.7 20L754.8 8L1004.2 8L1003.3 20L1001.3 31L998 43L993.4 55L987.8 67L981.1 79L959.5 113L880.3 143L881.4 144.1L884.4 145.3L959.9 174L981.9 209L988.5 221L993.6 232L998.1 244L1001.6 257L1003.8 271L1004.2 277L1003.4 277Z"/>
<path fill="#453b8b" fill-rule="evenodd" d="M990.4 277L768.6 277L767.6 266L767.9 254L769.6 242L772.6 230L776.8 218L782.2 206L799.4 174.9L877.4 144.3L878.6 143L799.4 111.7L788.7 93L781.9 80L776.6 68L772.4 56L769.5 44L767.9 32L767.6 20L768.8 8L990.2 8L991.4 20L991.1 32L989.5 44L986.6 56L982.4 68L977.1 80L970.3 93L959.4 112L880.2 143L881.4 144.1L884.4 145.4L959.4 174.7L970 193L976.8 206L982.2 218L986.4 230L989.4 242L991.1 254L991.4 266L990.4 277Z"/>
<path fill="#463e8e" fill-rule="evenodd" d="M977.4 277L781 277L778.2 266L776.8 254L776.9 242L778.4 230L781.3 218L785.8 205L792.1 191L800 176L877.4 144.3L878.6 143L800.4 111L799.5 110L791.3 94L785.6 81L781.1 68L778.3 56L776.8 43L776.9 31L778.5 19L781.5 8L977.5 8L980.5 19L982.1 31L982.2 43L980.7 56L977.9 68L973.4 81L967.7 94L959.4 110.1L958.4 111.1L880.2 143L881.4 144.2L884.4 145.5L957.2 175L959.4 176.5L967.9 193L973.6 206L978 219L980.8 231L982.3 244L982.1 256L980.2 269L978 277L977.4 277Z"/>
<path fill="#464192" fill-rule="evenodd" d="M966.4 277L792.5 277L788 266L784.9 254L783.5 242L783.7 230L785.4 218L788.8 205L793.6 192L800.4 177.2L877.4 144.4L878.7 143L800.4 109.4L793.4 94L788.6 81L785.3 68L783.7 56L783.6 43L785.2 31L788.5 19L793.3 8L965.7 8L970.5 19L973.8 31L975.4 43L975.3 56L973.7 68L970.4 81L965.2 95L958.4 109.6L880.1 143L881.4 144.2L884.4 145.6L958.5 177L965.4 192L970.2 205L973.6 218L975.3 230L975.5 242L974.1 254L971 266L966.4 277Z"/>
<path fill="#474596" fill-rule="evenodd" d="M955.4 277L803.5 277L799.4 270.3L794.5 260L791.1 249L789.2 238L788.8 227L789.6 216L792 204L795.6 192L800.8 179L801.7 178L877.4 144.4L878.7 143L801 108L795.1 93L791.3 80L789.2 67L788.8 55L790.2 42L793.3 30L797.9 19L804.6 8L954.4 8L959.5 16L964.2 26L967.8 37L969.7 48L970.3 59L969.3 71L966.9 83L962.9 96L957.9 108L880.1 143L881.4 144.3L957.3 178L958.2 179L963.7 193L967.5 206L969.7 219L970.2 231L969.1 243L966.2 255L961.4 266.9L955.4 277Z"/>
<path fill="#47489a" fill-rule="evenodd" d="M944.4 277L814.5 277L806.6 267L800.9 257L797.3 248L794.8 239L793.4 230L793 220L793.7 210L795.5 200L798.2 190L801.8 180L877.4 144.5L878.7 143L802.4 107.2L801.5 106L796.8 92L793.9 78L793 65L793.9 53L796.8 40L801.4 28.7L807.7 18L816 8L943 8L951.4 18.2L958.2 30L961.5 38L964 47L965.5 56L966 66L965.5 75L963.9 85L961.3 95L957.4 106.3L956.4 107.3L880.1 143L881.4 144.4L955.7 179L957.4 180.3L962 194L965 208L966 221L965.2 233L962.7 245L958.1 257L951.7 268L944.4 277Z"/>
<path fill="#474c9d" fill-rule="evenodd" d="M932.4 277L825.7 277L818.2 270L811.4 261.8L805.9 253L801.8 244L799.4 236.8L797.7 229L796.5 214L798.2 198L802.4 181.9L803.4 180.9L877.4 144.6L878.8 143L803.9 106L802.4 104.7L798.6 91L796.7 77L796.9 64L799.1 51L803.4 38.7L809.9 27L817.8 17L827.8 8L931.2 8L939.4 15.2L946.4 23.2L952.4 32.3L957 42L959.4 49.1L961.2 57L962.5 72L961 88L956.4 105.2L880 143L881.4 144.4L955.9 181L956.6 182L960.4 196L962.3 209L962.2 222L960.1 235L955.6 248L949.4 259.2L940.4 270.4L933.4 276.9L932.4 277Z"/>
<path fill="#47509f" fill-rule="evenodd" d="M920.4 277L838.2 277L826.4 268.7L821.4 264L816.1 258L808.3 246L805 239L802.6 232L800.1 220L799.5 208L800.7 195L803.5 183L877.4 144.6L878.8 143L804.1 104L803.3 103L800.2 88L799.5 74L801 61L804.9 48L810.9 36L819.4 24.7L829.4 15.5L841.1 8L917.9 8L930.4 16.1L936.4 21.4L941.6 27L946.4 33.3L950.4 40L953.7 47L956.2 54L958.8 66L959.5 78L958.3 91L955.4 103.6L880 143L881.4 144.5L955.4 182.9L955.8 184L958.7 198L959.5 212L958.1 225L954.4 237.9L948.4 250.1L940.4 261L930.4 270.5L920.4 277Z"/>
<path fill="#4855a2" fill-rule="evenodd" d="M904.4 277L853.8 277L846.4 274.1L839.4 270.4L832.4 265.8L826.4 260.9L820.4 254.8L815.4 248.4L810.9 241L807.6 234L804.9 226L803.1 218L802.2 210L802.1 202L802.8 194L804.4 185L877.4 144.7L878.8 143L804.6 102L803 94L802.1 79L803.8 65L807.8 52L814.2 40L823 29L833.4 20L845.4 13L859.2 8L899.8 8L910.4 11.6L921.4 17.2L928.2 22L934 27L939.4 32.7L944.1 39L948.3 46L951.6 53L954 60L955.8 68L956.8 76L956.9 85L956 94L954.4 102L880 143L881.4 144.6L954.4 184.6L955.4 189L956.9 203L956.1 217L952.9 230L947 243L943.2 249L938.4 255L928.4 264.5L916.4 272.2L909.4 275.4L904.4 277Z"/>
<path fill="#4859a5" fill-rule="evenodd" d="M884.4 275.1L877.4 275.2L869.4 274.6L861.4 273.1L854.4 271.1L847.4 268.3L840.4 264.6L834.4 260.7L828.4 255.9L823.4 250.9L818.4 244.9L814.4 238.8L810.9 232L808.1 225L806.1 218L804.9 211L804.3 203L804.9 191L805.5 187L806.4 186.1L877.4 144.7L878.9 143L805.7 100L804.7 94L804.3 86L805.5 72L807.1 65L809.4 58L812.4 51.4L816.1 45L825 34L830.4 29L836.4 24.5L842.4 20.8L849.4 17.4L863.4 13.1L877.4 11.4L885.4 11.6L892.4 12.5L906.4 16.2L919.4 22.4L925.4 26.5L931.4 31.5L940.8 42L944.7 48L948.3 55L951 62L952.9 69L954.7 83L954.4 92L953.4 100L879.9 143L881.4 144.6L952.5 186L953.5 187L954.6 198L954.6 206L953.8 213L950.4 226.4L944.4 239.1L940.4 245.1L935.5 251L930.4 256L924.4 260.9L912.4 267.9L905.4 270.8L898.4 272.9L884.4 275.1Z"/>
<path fill="#495faa" fill-rule="evenodd" d="M890.4 269.1L883.4 269.8L875.4 269.8L867.4 268.9L860.4 267.5L853.4 265.3L846.4 262.3L839.4 258.3L833.4 254.1L827.4 248.8L822.4 243.3L818.4 238L814.4 231.3L811.4 224.8L809.1 218L807.5 211L806.5 203L806.5 192L806.8 189L807.4 188.2L877.4 144.8L878.9 143L807.4 98.4L806.7 97L806.3 92L807.1 78L810.4 64.5L816.3 52L824.4 40.9L834.4 31.7L846.4 24.3L853.4 21.3L860.4 19.1L874.4 16.9L881.4 16.7L889.4 17.3L903.4 20.6L916.4 26.4L922.4 30.1L928.4 34.8L938 45L942.1 51L945.4 56.9L950.3 70L952.6 84L952.4 96L952 98L951.4 98.6L879.9 143L881.4 144.7L951.4 188L952.2 189L952.5 191L952.4 205L949.9 218L944.7 231L937.4 242.3L932.4 248L927.4 252.6L916.4 260.2L904.4 265.7L890.4 269.1Z"/>
<path fill="#4966b0" fill-rule="evenodd" d="M883.4 265L876.4 265.1L868.4 264.3L861.4 262.9L854.4 260.7L847.4 257.8L841.4 254.5L830.4 246.2L825.4 241.1L820.6 235L813.9 223L809.7 210L808.1 196L808.4 190.5L877.4 144.8L878.9 143L808.4 96.1L808.1 93L809.2 79L812.9 66L819 54L827.4 43.4L832.4 38.7L838.4 34.1L850.4 27.5L863.4 23.2L877.4 21.5L891.4 22.4L898.4 23.9L905.4 26.2L912.4 29.2L918.4 32.6L929.2 41L938 51L944.9 63L949.2 76L950.9 90L950.9 95L950.4 96.3L879.9 143L881.4 144.7L950.4 190.3L950.9 192L950.1 206L946.7 219L941 231L936.9 237L932.4 242.4L922.4 251.3L910.4 258.3L897.4 262.9L883.4 265Z"/>
<path fill="#4a6db5" fill-rule="evenodd" d="M890.4 260L883.4 260.7L875.4 260.7L861.4 258.5L854.4 256.3L847.4 253.3L841.4 249.9L835.4 245.6L830.4 241.2L825.4 235.9L821 230L817.5 224L814.7 218L812.3 211L810.7 204L809.8 197L809.7 194L810.4 192.3L877.4 144.9L879 143L810.4 94.3L809.7 93L811.2 80L814.9 68L820.8 57L828.4 47.4L838.4 38.7L849.4 32.4L861.4 28.1L874.4 25.9L888.4 26.3L901.4 29.2L908.4 31.8L914.4 34.8L925.4 42.5L934.6 52L938.9 58L942.2 64L944.9 70L947.1 77L949.2 90L949.1 94L879.8 143L881.4 144.8L949.3 193L948.1 205L944.7 217L939.4 227.8L932.4 237.3L923.4 245.8L913.4 252.3L902.4 257.1L890.4 260Z"/>
<path fill="#4a76bb" fill-rule="evenodd" d="M890.4 256.1L883.4 256.8L876.4 256.9L869.4 256.2L862.4 254.8L849.4 250.2L843.4 246.9L837.4 242.9L832.4 238.6L827.4 233.5L823.1 228L819.4 222L816.4 215.8L814 209L811.5 196L811.4 195L878.4 144.3L879 143L812 92L811.4 91L813.6 79L817.7 68L823.6 58L831.4 48.9L840.4 41.6L851.4 35.5L862.4 31.8L874.4 29.8L888.4 30.2L901.4 33.1L913.4 38.4L924.4 46L933.4 55.3L940.4 66.1L945.1 78L947.6 91L947 92L879.8 143L881.4 144.9L947.5 195L946.1 205L942.4 216.3L937.2 226L930.2 235L922.4 242.2L912.4 248.8L901.4 253.5L890.4 256.1Z"/>
<path fill="#4a7ec0" fill-rule="evenodd" d="M886.4 253.1L873.4 253.1L861.4 251L849.4 246.5L838.4 239.7L829.4 231.5L821.7 221L816.5 210L813.4 198L813.8 197L878.4 144.4L879.1 143L813.3 89L816 78L820.4 67.8L826.4 58.7L834.4 50.2L843.4 43.5L853.4 38.3L864.4 34.9L876.4 33.3L888.4 33.8L900.4 36.4L912.4 41.6L922.4 48.3L931.2 57L938.1 67L943 78L945.6 89L879.7 143L881.4 144.9L945.2 197L945.6 198L942.9 209L938.5 219L932.5 228L925.4 235.7L916.4 242.6L907.4 247.5L897.4 251L886.4 253.1Z"/>
<path fill="#4a87c6" fill-rule="evenodd" d="M883.4 250L871.4 249.7L860.4 247.4L850.4 243.5L840.4 237.6L831.4 229.7L824.4 221L819 211L815.5 200L878.4 144.5L879.1 143L815.7 87L816.1 84L818 78L822.3 69L827.4 61.5L834.3 54L841.4 48.3L849.4 43.6L858.4 39.8L867.4 37.5L877.4 36.5L888.4 37L899.4 39.5L909.4 43.5L919.4 49.6L927.7 57L934.8 66L940.1 76L943.4 86L943.3 87L879.7 143L880.4 144.2L943.5 200L940.4 210L935.8 219L929.4 227.8L922.4 234.6L914.4 240.4L904.4 245.4L894.4 248.5L883.4 250Z"/>
<path fill="#4c91ce" fill-rule="evenodd" d="M883.4 247L872.4 246.8L861.4 244.6L851.4 240.9L842.4 235.7L834.4 229.2L827.4 221.3L822.2 213L818 203L818.4 201.8L878.4 144.6L879.1 143L818.4 84.8L818 84L818.9 81L822.5 73L827.6 65L833.7 58L841.4 51.6L849.4 46.7L858.4 42.9L867.4 40.6L877.4 39.5L888.4 40.1L898.4 42.2L908.4 46.1L917.4 51.4L925.4 58.1L932.1 66L937.6 75L941 84L879.7 143L880.4 144.3L940.8 202L940.3 205L936.4 213.8L931.4 221.6L925.4 228.5L918.4 234.4L910.4 239.5L901.4 243.4L892.4 245.9L883.4 247Z"/>
<path fill="#4d9cd5" fill-rule="evenodd" d="M885.4 244.1L875.4 244.2L865.4 242.8L855.4 239.7L846.4 235.3L838.4 229.6L830.7 222L824.9 214L820.6 205L878.4 144.7L879.2 143L820.8 82L820.8 81L824.4 73.5L829.4 66.2L835.4 59.6L842.4 53.9L850.4 49.1L858.4 45.7L867.4 43.4L876.4 42.3L886.4 42.6L895.4 44.2L904.4 47.2L913.4 51.8L921.4 57.6L928.4 64.7L934.3 73L938.2 81L938.2 82L879.6 143L880.4 144.4L938.5 205L934.6 213L929.9 220L924.4 226.2L917.4 232.1L910.4 236.5L902.4 240.2L894.4 242.6L885.4 244.1Z"/>
<path fill="#52a6db" fill-rule="evenodd" d="M889.4 241L879.4 241.8L869.4 241L859.4 238.6L850.4 234.8L842.4 229.9L834.4 223L828.4 215.8L823.8 208L824.1 207L878.4 144.8L879.2 143L823.6 79L827.4 72.2L832.4 65.8L838.4 59.9L844.4 55.3L851.4 51.3L858.4 48.4L866.4 46.2L874.4 45L883.4 44.9L893.4 46.3L902.4 49.1L910.4 52.8L918.4 58.1L925.4 64.4L931.4 71.9L935.4 79L879.6 143L880.4 144.6L934.9 207L935.3 208L931.8 214L927.4 219.9L922.4 225.1L916.4 230L910.4 233.8L903.4 237.2L896.4 239.5L889.4 241Z"/>
<path fill="#58b0df" fill-rule="evenodd" d="M886.4 239L878.4 239.4L869.4 238.6L860.4 236.4L852.4 233.3L845.4 229.3L838.4 224L832.4 217.9L827.3 211L827.3 210L878.4 144.9L879.2 143L827.2 76L831.3 70L836.4 64.4L842.4 59.4L848.4 55.4L855.4 52L862.4 49.6L869.4 48L876.4 47.3L884.4 47.4L892.4 48.5L900.4 50.8L908.4 54.2L915.4 58.5L921.4 63.3L927.4 69.6L931.8 76L879.6 143L880.4 144.7L931.7 210L931.7 211L928.2 216L923.4 221.4L918.4 225.8L912.4 230.1L906.4 233.3L900.4 235.8L893.4 237.8L886.4 239Z"/>
<path fill="#5fbbe3" fill-rule="evenodd" d="M883.4 237L876.4 237.1L868.4 236.1L860.4 234.1L853.4 231.4L846.4 227.5L840.4 223.2L834.4 217.5L831.2 213L879.1 144L879.3 143L831.4 74L831.2 73L835.4 68.1L840.4 63.4L845.4 59.7L851.4 56.2L857.4 53.5L864.4 51.3L877.4 49.5L884.4 49.7L891.4 50.6L898.4 52.4L905.4 55.1L911.4 58.3L917.4 62.5L923.4 67.9L927.7 73L927.6 74L879.5 143L927.9 213L925.4 216.6L920.4 221.6L915.4 225.6L909.4 229.4L897.4 234.5L890.4 236.2L883.4 237Z"/>
<path fill="#6ac2e0" fill-rule="evenodd" d="M881.4 235L868.4 234L856.4 230.5L850.4 227.6L844.4 223.9L838.4 219L835.7 216L879.2 144L879.3 143L836 71L836 70L844.4 62.7L855.4 56.5L866.4 53L878.4 51.6L891.4 52.7L903.4 56.4L909.4 59.4L915.4 63.3L922.1 69L922.9 70L923 71L879.5 143L923.3 216L920.4 219.2L915.4 223.3L904.4 229.7L893.4 233.4L881.4 235Z"/>
<path fill="#76cadc" fill-rule="evenodd" d="M881.4 233L870.4 232.4L859.4 229.6L849.4 225L844.4 221.7L841.4 219L878.8 145L879.3 143L841.6 68L841.8 67L849.4 61.6L858.4 57.4L868.4 54.6L878.4 53.5L889.4 54.4L900.4 57.3L911.4 62.7L917.3 67L917.4 68L879.5 143L917.6 219L915.4 221.1L910.4 224.5L901.4 228.9L891.4 231.9L881.4 233Z"/>
<path fill="#81d0d6" fill-rule="evenodd" d="M883.4 231.1L873.4 230.9L864.4 229.2L854.4 225.6L848.5 222L879 145L879.4 143L848.6 65L848.9 64L851.4 62.5L860.4 58.6L868.4 56.4L877.4 55.4L887.4 55.9L896.4 57.9L906.4 61.9L910.1 64L910.4 65L879.4 143L910.5 222L906.4 224.7L898.4 228.1L890.4 230.2L883.4 231.1Z"/>
<path fill="#88d0cb" fill-rule="evenodd" d="M879.4 142.6L858.6 62L858.8 61L866.4 58.6L872.4 57.6L879.4 57.2L886.4 57.6L892.4 58.6L900.3 61L900.4 62L879.4 142.6ZM886.4 229L879.4 229.4L871.4 228.9L862.8 227L859.7 226L858.5 225L879.4 143.5L900.5 225L899.3 226L895.4 227.2L886.4 229Z"/>
<ellipse cx="879.5" cy="143.3" rx="86.0" ry="84.8" fill="#412b70"/>
</g>
<!-- colorbar -->
<rect x="1028.5" y="10.6" width="26.6" height="265.0" fill="url(#gcb)"/>
<text x="414.8" y="18.9" class="bt" text-anchor="end">120</text>
<text x="414.8" y="61" class="bt" text-anchor="end">80</text>
<text x="414.8" y="106.7" class="bt" text-anchor="end">40</text>
<text x="414.8" y="150.1" class="bt" text-anchor="end">0</text>
<text x="414.8" y="195.5" class="bt" text-anchor="end">-40</text>
<text x="414.8" y="238.5" class="bt" text-anchor="end">-80</text>
<text x="414.8" y="282.7" class="bt" text-anchor="end">-120</text>
<text x="461.6" y="292.7" class="bt" text-anchor="middle">-80</text>
<text x="508.3" y="292.7" class="bt" text-anchor="middle">-40</text>
<text x="553.2" y="292.7" class="bt" text-anchor="middle">0</text>
<text x="598.2" y="292.7" class="bt" text-anchor="middle">40</text>
<text x="643.3" y="292.7" class="bt" text-anchor="middle">80</text>
<text x="564" y="312.7" class="xl" text-anchor="middle" style="letter-spacing:.5px">x (nm)</text>
<text transform="translate(386.5,128) rotate(-90)" class="xl2" text-anchor="middle">y (nm)</text>
<text x="434" y="35.6" class="plw" fill="#fff">b</text>
<text x="735.2" y="47.1" class="bt" text-anchor="end">30</text>
<text x="735.2" y="81" class="bt" text-anchor="end">20</text>
<text x="735.2" y="115.4" class="bt" text-anchor="end">10</text>
<text x="735.2" y="149" class="bt" text-anchor="end">0</text>
<text x="735.2" y="181.8" class="bt" text-anchor="end">-10</text>
<text x="735.2" y="214.3" class="bt" text-anchor="end">-20</text>
<text x="735.2" y="248" class="bt" text-anchor="end">-30</text>
<text x="773.2" y="291.9" class="bt" text-anchor="middle">-30</text>
<text x="807.4" y="291.9" class="bt" text-anchor="middle">-20</text>
<text x="841.6" y="291.9" class="bt" text-anchor="middle">-10</text>
<text x="877.8" y="291.9" class="bt" text-anchor="middle">0</text>
<text x="912" y="291.9" class="bt" text-anchor="middle">10</text>
<text x="946.2" y="291.9" class="bt" text-anchor="middle">20</text>
<text x="980.4" y="291.9" class="bt" text-anchor="middle">30</text>
<text x="877" y="312.7" class="xl" text-anchor="middle" style="letter-spacing:.5px">x (nm)</text>
<text transform="translate(710.4,127.5) rotate(-90)" class="xl2" text-anchor="middle">y (nm)</text>
<text x="757.7" y="34.3" class="plw" fill="#fff">c</text>
<rect x="440.4" y="272.6" width="1" height="3" fill="#2a2f6a" opacity=".65"/>
<rect x="462.7" y="272.6" width="1" height="3" fill="#2a2f6a" opacity=".65"/>
<rect x="485" y="272.6" width="1" height="3" fill="#2a2f6a" opacity=".65"/>
<rect x="507.3" y="272.6" width="1" height="3" fill="#2a2f6a" opacity=".65"/>
<rect x="529.6" y="272.6" width="1" height="3" fill="#2a2f6a" opacity=".65"/>
<rect x="551.9" y="272.6" width="1" height="3" fill="#2a2f6a" opacity=".65"/>
<rect x="574.2" y="272.6" width="1" height="3" fill="#2a2f6a" opacity=".65"/>
<rect x="596.5" y="272.6" width="1" height="3" fill="#2a2f6a" opacity=".65"/>
<rect x="618.8" y="272.6" width="1" height="3" fill="#2a2f6a" opacity=".65"/>
<rect x="641.1" y="272.6" width="1" height="3" fill="#2a2f6a" opacity=".65"/>
<rect x="663.4" y="272.6" width="1" height="3" fill="#2a2f6a" opacity=".65"/>
<rect x="685.7" y="272.6" width="1" height="3" fill="#2a2f6a" opacity=".65"/>
<rect x="774.2" y="272.4" width="1" height="3.2" fill="#241a50" opacity=".7"/>
<rect x="808.5" y="272.4" width="1" height="3.2" fill="#241a50" opacity=".7"/>
<rect x="842.8" y="272.4" width="1" height="3.2" fill="#241a50" opacity=".7"/>
<rect x="877.1" y="272.4" width="1" height="3.2" fill="#241a50" opacity=".7"/>
<rect x="911.4" y="272.4" width="1" height="3.2" fill="#241a50" opacity=".7"/>
<rect x="945.7" y="272.4" width="1" height="3.2" fill="#241a50" opacity=".7"/>
<rect x="980" y="272.4" width="1" height="3.2" fill="#241a50" opacity=".7"/>
</svg>
<div class="cap" style="top:333.9px">Fig. 2. The FDTD simulation results of Au triangular nanoprism. (a) The simulation absorption</div>
<div class="cap" style="top:361.2px">spectra of Au nanoprism. (b) and (c) are electric field distribution of Au nanoprism and Au</div>
<div class="cap" style="top:388.8px;text-align:left;text-align-last:left">nanoparticle at 1240 nm, respectively.</div>
</body></html>
